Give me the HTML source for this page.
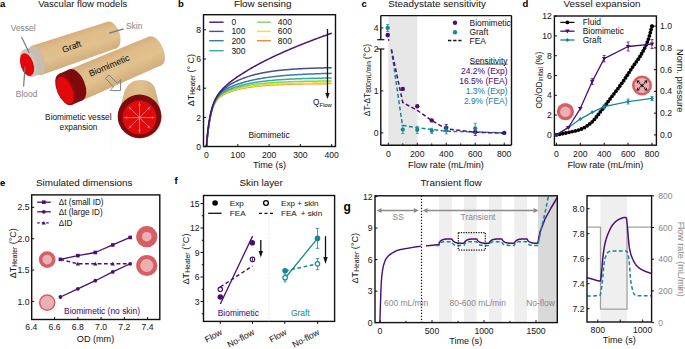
<!DOCTYPE html>
<html><head><meta charset="utf-8"><style>
html,body{margin:0;padding:0;background:#fff;width:685px;height:349px;overflow:hidden}
svg{display:block}
text{font-family:"Liberation Sans", sans-serif}
</style></head><body>
<svg width="685" height="349" viewBox="0 0 685 349">
<text x="0.00" y="7.20" font-size="9.5" text-anchor="start" fill="#000" font-weight="bold"  stroke="#000" stroke-width="0.05">a</text>
<text x="38.20" y="7.30" font-size="9.5" text-anchor="start" fill="#1a1a1a" font-weight="normal"  stroke="#1a1a1a" stroke-width="0.05">Vascular flow models</text>
<defs>
<linearGradient id="tan" x1="0" y1="0" x2="0" y2="1">
<stop offset="0" stop-color="#d4ae7c"/>
<stop offset="0.25" stop-color="#dfbd8a"/>
<stop offset="0.6" stop-color="#e1c18f"/>
<stop offset="1" stop-color="#d2ac7c"/>
</linearGradient>
<linearGradient id="tan2" x1="0" y1="0" x2="1" y2="0">
<stop offset="0" stop-color="#d5b07e"/>
<stop offset="0.5" stop-color="#e0c08e"/>
<stop offset="1" stop-color="#d2ac7c"/>
</linearGradient>
</defs>
<g transform="translate(36.8 60.4) rotate(-18.663)">
<path d="M0,-15.4 L79.37,-13.9 L79.37,13.9 L0,15.4 Z" fill="url(#tan)"/>
<ellipse cx="79.37" cy="0" rx="7.8" ry="13.9" fill="url(#tan)"/>
<ellipse cx="0" cy="0" rx="7.5" ry="15.4" fill="#d6b687"/>
<rect x="-9" y="-14.2" width="9" height="28.4" fill="#c9bdb2"/>
<ellipse cx="0" cy="0" rx="7" ry="14.2" fill="#c9bdb2"/>
<ellipse cx="-9" cy="0" rx="7.6" ry="14.2" fill="#cfc4ba"/>
<ellipse cx="-10.6" cy="0.9" rx="6.4" ry="11.7" fill="#e2080a"/>
</g>
<text x="71.60" y="49.75" font-size="8.8" text-anchor="middle" fill="#111" font-weight="normal" transform="rotate(-21 71.60 46.60)"  stroke="#111" stroke-width="0.05">Graft</text>
<g transform="translate(75.6 85.0) rotate(-23.190)">
<path d="M0,-16.8 L86.60,-15.6 L86.60,15.6 L0,16.8 Z" fill="url(#tan)"/>
<ellipse cx="86.60" cy="0" rx="8.3" ry="15.6" fill="url(#tan)"/>
<rect x="-11" y="-16.8" width="11" height="33.6" fill="#7e0a0e"/>
<ellipse cx="0" cy="0" rx="9.2" ry="16.8" fill="#7e0a0e"/>
<ellipse cx="-11" cy="0" rx="8.6" ry="16.8" fill="#8e0b10"/>
<ellipse cx="-11.8" cy="0.7" rx="7.3" ry="14.50" fill="#e2090b"/>
</g>
<text x="109.00" y="68.65" font-size="8.8" text-anchor="middle" fill="#111" font-weight="normal" transform="rotate(-23 109.00 65.50)"  stroke="#111" stroke-width="0.05">Biomimetic</text>
<path d="M124,93 Q128,80 141,80 Q154,80 156,92 L161.8,116 A21.6,21.6 0 0 1 118,117 Z" fill="url(#tan2)"/>
<circle cx="139.50" cy="116.40" r="21.8" fill="#7e0a0e" stroke="none" stroke-width="0"/>
<circle cx="139.50" cy="117.60" r="17.0" fill="#e2090b" stroke="none" stroke-width="0"/>
<line x1="139.50" y1="117.60" x2="154.70" y2="117.60" stroke="#ff6a6a" stroke-width="1.0" />
<path d="M154.70,117.60 L151.70,118.90 L151.70,116.30 Z" fill="#ff6a6a"/>
<line x1="139.50" y1="117.60" x2="150.25" y2="128.35" stroke="#ff6a6a" stroke-width="1.0" />
<path d="M150.25,128.35 L147.21,127.15 L149.05,125.31 Z" fill="#ff6a6a"/>
<line x1="139.50" y1="117.60" x2="139.50" y2="132.80" stroke="#ff6a6a" stroke-width="1.0" />
<path d="M139.50,132.80 L138.20,129.80 L140.80,129.80 Z" fill="#ff6a6a"/>
<line x1="139.50" y1="117.60" x2="128.75" y2="128.35" stroke="#ff6a6a" stroke-width="1.0" />
<path d="M128.75,128.35 L129.95,125.31 L131.79,127.15 Z" fill="#ff6a6a"/>
<line x1="139.50" y1="117.60" x2="124.30" y2="117.60" stroke="#ff6a6a" stroke-width="1.0" />
<path d="M124.30,117.60 L127.30,116.30 L127.30,118.90 Z" fill="#ff6a6a"/>
<line x1="139.50" y1="117.60" x2="128.75" y2="106.85" stroke="#ff6a6a" stroke-width="1.0" />
<path d="M128.75,106.85 L131.79,108.05 L129.95,109.89 Z" fill="#ff6a6a"/>
<line x1="139.50" y1="117.60" x2="139.50" y2="102.40" stroke="#ff6a6a" stroke-width="1.0" />
<path d="M139.50,102.40 L140.80,105.40 L138.20,105.40 Z" fill="#ff6a6a"/>
<line x1="139.50" y1="117.60" x2="150.25" y2="106.85" stroke="#ff6a6a" stroke-width="1.0" />
<path d="M150.25,106.85 L149.05,109.89 L147.21,108.05 Z" fill="#ff6a6a"/>
<path d="M105.6,78.2 L109,75.0 L117.2,83.2 L120.6,79.8 L120.6,90.6 L109.8,90.6 L113.4,87.0 Z" fill="none" stroke="#7d7d7d" stroke-width="1"/>
<line x1="110.70" y1="88.00" x2="110.70" y2="151.00" stroke="#f0f0f0" stroke-width="0.6" />
<text x="78.30" y="120.17" font-size="8.3" text-anchor="middle" fill="#222" font-weight="normal"  stroke="#222" stroke-width="0.05">Biomimetic vessel</text>
<text x="78.50" y="129.57" font-size="8.3" text-anchor="middle" fill="#222" font-weight="normal"  stroke="#222" stroke-width="0.05">expansion</text>
<text x="23.20" y="31.03" font-size="8.45" text-anchor="middle" fill="#8a8a8a" font-weight="normal"  stroke="#8a8a8a" stroke-width="0.05">Vessel</text>
<text x="26.60" y="96.83" font-size="8.45" text-anchor="middle" fill="#8a8a8a" font-weight="normal"  stroke="#8a8a8a" stroke-width="0.05">Blood</text>
<text x="134.20" y="29.03" font-size="8.45" text-anchor="middle" fill="#8a8a8a" font-weight="normal"  stroke="#8a8a8a" stroke-width="0.05">Skin</text>
<line x1="21.50" y1="37.00" x2="29.30" y2="52.90" stroke="#777" stroke-width="1.2" />
<line x1="25.00" y1="66.50" x2="23.60" y2="86.50" stroke="#777" stroke-width="1.2" />
<line x1="109.20" y1="33.20" x2="123.70" y2="28.90" stroke="#777" stroke-width="1.2" />
<text x="178.00" y="7.20" font-size="9.5" text-anchor="start" fill="#000" font-weight="bold"  stroke="#000" stroke-width="0.05">b</text>
<text x="262.70" y="7.44" font-size="9.9" text-anchor="middle" fill="#1a1a1a" font-weight="normal"  stroke="#1a1a1a" stroke-width="0.05">Flow sensing</text>
<path d="M206.50,146.60 L206.66,144.75 L206.82,142.97 L206.98,141.26 L207.14,139.62 L207.30,138.04 L207.46,136.52 L207.62,135.05 L207.78,133.64 L207.94,132.29 L208.11,130.98 L208.27,129.73 L208.43,128.52 L208.59,127.36 L208.75,126.23 L208.91,125.16 L209.07,124.12 L209.23,123.12 L209.39,122.15 L209.55,121.22 L209.71,120.33 L209.87,119.46 L210.03,118.63 L210.19,117.83 L210.35,117.06 L210.51,116.31 L210.67,115.59 L210.83,114.90 L210.99,114.23 L211.15,113.58 L211.32,112.96 L211.48,112.36 L211.64,111.77 L211.80,111.21 L211.96,110.67 L212.12,110.15 L212.28,109.64 L212.44,109.15 L212.60,108.68 L212.76,108.22 L212.92,107.79 L213.71,105.79 L214.51,104.09 L215.31,102.62 L216.11,101.36 L216.90,100.26 L217.70,99.29 L218.50,98.43 L219.29,97.67 L220.09,96.99 L220.89,96.37 L221.69,95.81 L222.48,95.29 L223.28,94.81 L224.08,94.37 L224.87,93.96 L225.67,93.57 L226.47,93.21 L227.27,92.86 L228.06,92.53 L228.86,92.22 L229.66,91.93 L230.46,91.64 L231.25,91.37 L232.05,91.11 L232.85,90.86 L233.64,90.62 L234.44,90.38 L235.24,90.16 L236.04,89.94 L236.83,89.73 L237.63,89.53 L238.43,89.34 L239.22,89.15 L240.02,88.97 L240.82,88.79 L241.62,88.62 L242.41,88.46 L243.21,88.30 L244.01,88.15 L244.80,88.00 L245.60,87.85 L246.40,87.71 L247.20,87.58 L247.99,87.45 L248.79,87.32 L249.59,87.20 L250.39,87.08 L251.18,86.96 L251.98,86.85 L252.78,86.74 L253.57,86.64 L254.37,86.54 L255.17,86.44 L255.97,86.35 L256.76,86.26 L257.56,86.17 L258.36,86.08 L259.15,86.00 L259.95,85.92 L260.75,85.84 L261.55,85.76 L262.34,85.69 L263.14,85.62 L263.94,85.55 L264.73,85.48 L265.53,85.42 L266.33,85.36 L267.13,85.30 L267.92,85.24 L268.72,85.18 L269.52,85.13 L270.32,85.07 L271.11,85.02 L271.91,84.97 L272.71,84.93 L273.50,84.88 L274.30,84.83 L275.10,84.79 L275.90,84.75 L276.69,84.71 L277.49,84.67 L278.29,84.63 L279.08,84.59 L279.88,84.55 L280.68,84.52 L281.48,84.49 L282.27,84.45 L283.07,84.42 L283.87,84.39 L284.66,84.36 L285.46,84.33 L286.26,84.30 L287.06,84.28 L287.85,84.25 L288.65,84.23 L289.45,84.20 L290.25,84.18 L291.04,84.16 L291.84,84.13 L292.64,84.11 L293.43,84.09 L294.23,84.07 L295.03,84.05 L295.83,84.03 L296.62,84.01 L297.42,84.00 L298.22,83.98 L299.01,83.96 L299.81,83.95 L300.61,83.93 L301.41,83.92 L302.20,83.90 L303.00,83.89 L303.80,83.87 L304.60,83.86 L305.39,83.85 L306.19,83.83 L306.99,83.82 L307.78,83.81 L308.58,83.80 L309.38,83.79 L310.18,83.78 L310.97,83.77 L311.77,83.76 L312.57,83.75 L313.36,83.74 L314.16,83.73 L314.96,83.72 L315.76,83.71 L316.55,83.70 L317.35,83.70 L318.15,83.69 L318.94,83.68 L319.74,83.67 L320.54,83.67 L321.34,83.66 L322.13,83.65 L322.93,83.65 L323.73,83.64 L324.53,83.64 L325.32,83.63 L326.12,83.62 L326.92,83.62 L327.71,83.61 L328.51,83.61 L329.31,83.60 L330.11,83.60 L330.90,83.59 L331.70,83.59" fill="none" stroke="#f7892a" stroke-width="1.5" stroke-linejoin="round" />
<path d="M206.50,146.60 L206.66,144.76 L206.82,142.99 L206.98,141.29 L207.14,139.65 L207.30,138.07 L207.46,136.55 L207.62,135.09 L207.78,133.68 L207.94,132.32 L208.11,131.01 L208.27,129.75 L208.43,128.54 L208.59,127.37 L208.75,126.24 L208.91,125.15 L209.07,124.11 L209.23,123.10 L209.39,122.12 L209.55,121.18 L209.71,120.28 L209.87,119.40 L210.03,118.56 L210.19,117.75 L210.35,116.96 L210.51,116.21 L210.67,115.48 L210.83,114.77 L210.99,114.09 L211.15,113.43 L211.32,112.79 L211.48,112.18 L211.64,111.59 L211.80,111.01 L211.96,110.46 L212.12,109.92 L212.28,109.41 L212.44,108.91 L212.60,108.42 L212.76,107.95 L212.92,107.51 L213.71,105.46 L214.51,103.71 L215.31,102.20 L216.11,100.90 L216.90,99.77 L217.70,98.77 L218.50,97.89 L219.29,97.11 L220.09,96.41 L220.89,95.78 L221.69,95.21 L222.48,94.68 L223.28,94.20 L224.08,93.75 L224.87,93.34 L225.67,92.95 L226.47,92.58 L227.27,92.24 L228.06,91.91 L228.86,91.60 L229.66,91.30 L230.46,91.02 L231.25,90.75 L232.05,90.49 L232.85,90.24 L233.64,90.00 L234.44,89.77 L235.24,89.55 L236.04,89.33 L236.83,89.13 L237.63,88.93 L238.43,88.74 L239.22,88.55 L240.02,88.37 L240.82,88.19 L241.62,88.03 L242.41,87.86 L243.21,87.70 L244.01,87.55 L244.80,87.40 L245.60,87.26 L246.40,87.12 L247.20,86.99 L247.99,86.86 L248.79,86.73 L249.59,86.61 L250.39,86.49 L251.18,86.38 L251.98,86.26 L252.78,86.16 L253.57,86.05 L254.37,85.95 L255.17,85.85 L255.97,85.76 L256.76,85.67 L257.56,85.58 L258.36,85.49 L259.15,85.41 L259.95,85.33 L260.75,85.25 L261.55,85.17 L262.34,85.10 L263.14,85.03 L263.94,84.96 L264.73,84.89 L265.53,84.83 L266.33,84.77 L267.13,84.70 L267.92,84.65 L268.72,84.59 L269.52,84.53 L270.32,84.48 L271.11,84.43 L271.91,84.38 L272.71,84.33 L273.50,84.28 L274.30,84.23 L275.10,84.19 L275.90,84.15 L276.69,84.11 L277.49,84.07 L278.29,84.03 L279.08,83.99 L279.88,83.95 L280.68,83.92 L281.48,83.88 L282.27,83.85 L283.07,83.82 L283.87,83.78 L284.66,83.75 L285.46,83.72 L286.26,83.70 L287.06,83.67 L287.85,83.64 L288.65,83.62 L289.45,83.59 L290.25,83.57 L291.04,83.54 L291.84,83.52 L292.64,83.50 L293.43,83.48 L294.23,83.46 L295.03,83.44 L295.83,83.42 L296.62,83.40 L297.42,83.38 L298.22,83.36 L299.01,83.34 L299.81,83.33 L300.61,83.31 L301.41,83.29 L302.20,83.28 L303.00,83.26 L303.80,83.25 L304.60,83.24 L305.39,83.22 L306.19,83.21 L306.99,83.20 L307.78,83.19 L308.58,83.17 L309.38,83.16 L310.18,83.15 L310.97,83.14 L311.77,83.13 L312.57,83.12 L313.36,83.11 L314.16,83.10 L314.96,83.09 L315.76,83.08 L316.55,83.07 L317.35,83.07 L318.15,83.06 L318.94,83.05 L319.74,83.04 L320.54,83.04 L321.34,83.03 L322.13,83.02 L322.93,83.01 L323.73,83.01 L324.53,83.00 L325.32,83.00 L326.12,82.99 L326.92,82.98 L327.71,82.98 L328.51,82.97 L329.31,82.97 L330.11,82.96 L330.90,82.96 L331.70,82.95" fill="none" stroke="#f5df1e" stroke-width="1.5" stroke-linejoin="round" />
<path d="M206.50,146.60 L206.66,144.76 L206.82,142.98 L206.98,141.27 L207.14,139.62 L207.30,138.03 L207.46,136.50 L207.62,135.03 L207.78,133.61 L207.94,132.24 L208.11,130.92 L208.27,129.65 L208.43,128.42 L208.59,127.24 L208.75,126.10 L208.91,125.00 L209.07,123.94 L209.23,122.92 L209.39,121.94 L209.55,120.99 L209.71,120.07 L209.87,119.18 L210.03,118.33 L210.19,117.50 L210.35,116.71 L210.51,115.94 L210.67,115.20 L210.83,114.48 L210.99,113.79 L211.15,113.12 L211.32,112.47 L211.48,111.85 L211.64,111.24 L211.80,110.66 L211.96,110.10 L212.12,109.55 L212.28,109.02 L212.44,108.51 L212.60,108.02 L212.76,107.54 L212.92,107.09 L213.71,104.99 L214.51,103.20 L215.31,101.65 L216.11,100.31 L216.90,99.14 L217.70,98.12 L218.50,97.21 L219.29,96.40 L220.09,95.67 L220.89,95.02 L221.69,94.42 L222.48,93.87 L223.28,93.37 L224.08,92.90 L224.87,92.47 L225.67,92.06 L226.47,91.67 L227.27,91.31 L228.06,90.97 L228.86,90.64 L229.66,90.33 L230.46,90.03 L231.25,89.74 L232.05,89.46 L232.85,89.20 L233.64,88.94 L234.44,88.70 L235.24,88.46 L236.04,88.23 L236.83,88.01 L237.63,87.79 L238.43,87.59 L239.22,87.38 L240.02,87.19 L240.82,87.00 L241.62,86.82 L242.41,86.64 L243.21,86.47 L244.01,86.30 L244.80,86.14 L245.60,85.98 L246.40,85.83 L247.20,85.68 L247.99,85.54 L248.79,85.40 L249.59,85.26 L250.39,85.13 L251.18,85.00 L251.98,84.88 L252.78,84.76 L253.57,84.64 L254.37,84.53 L255.17,84.42 L255.97,84.31 L256.76,84.21 L257.56,84.11 L258.36,84.01 L259.15,83.92 L259.95,83.82 L260.75,83.74 L261.55,83.65 L262.34,83.56 L263.14,83.48 L263.94,83.40 L264.73,83.33 L265.53,83.25 L266.33,83.18 L267.13,83.11 L267.92,83.04 L268.72,82.97 L269.52,82.91 L270.32,82.85 L271.11,82.79 L271.91,82.73 L272.71,82.67 L273.50,82.62 L274.30,82.56 L275.10,82.51 L275.90,82.46 L276.69,82.41 L277.49,82.36 L278.29,82.31 L279.08,82.27 L279.88,82.23 L280.68,82.18 L281.48,82.14 L282.27,82.10 L283.07,82.06 L283.87,82.03 L284.66,81.99 L285.46,81.95 L286.26,81.92 L287.06,81.88 L287.85,81.85 L288.65,81.82 L289.45,81.79 L290.25,81.76 L291.04,81.73 L291.84,81.70 L292.64,81.68 L293.43,81.65 L294.23,81.62 L295.03,81.60 L295.83,81.57 L296.62,81.55 L297.42,81.53 L298.22,81.51 L299.01,81.48 L299.81,81.46 L300.61,81.44 L301.41,81.42 L302.20,81.40 L303.00,81.39 L303.80,81.37 L304.60,81.35 L305.39,81.33 L306.19,81.32 L306.99,81.30 L307.78,81.29 L308.58,81.27 L309.38,81.26 L310.18,81.24 L310.97,81.23 L311.77,81.21 L312.57,81.20 L313.36,81.19 L314.16,81.18 L314.96,81.17 L315.76,81.15 L316.55,81.14 L317.35,81.13 L318.15,81.12 L318.94,81.11 L319.74,81.10 L320.54,81.09 L321.34,81.08 L322.13,81.07 L322.93,81.06 L323.73,81.06 L324.53,81.05 L325.32,81.04 L326.12,81.03 L326.92,81.02 L327.71,81.02 L328.51,81.01 L329.31,81.00 L330.11,80.99 L330.90,80.99 L331.70,80.98" fill="none" stroke="#85d35d" stroke-width="1.5" stroke-linejoin="round" />
<path d="M206.50,146.60 L206.66,144.75 L206.82,142.96 L206.98,141.24 L207.14,139.58 L207.30,137.98 L207.46,136.44 L207.62,134.96 L207.78,133.53 L207.94,132.15 L208.11,130.82 L208.27,129.53 L208.43,128.30 L208.59,127.10 L208.75,125.95 L208.91,124.84 L209.07,123.77 L209.23,122.74 L209.39,121.75 L209.55,120.78 L209.71,119.86 L209.87,118.96 L210.03,118.09 L210.19,117.26 L210.35,116.45 L210.51,115.67 L210.67,114.92 L210.83,114.19 L210.99,113.49 L211.15,112.81 L211.32,112.15 L211.48,111.52 L211.64,110.90 L211.80,110.31 L211.96,109.74 L212.12,109.18 L212.28,108.64 L212.44,108.12 L212.60,107.62 L212.76,107.13 L212.92,106.67 L213.71,104.53 L214.51,102.69 L215.31,101.10 L216.11,99.72 L216.90,98.52 L217.70,97.45 L218.50,96.51 L219.29,95.67 L220.09,94.91 L220.89,94.22 L221.69,93.59 L222.48,93.02 L223.28,92.48 L224.08,91.98 L224.87,91.52 L225.67,91.08 L226.47,90.67 L227.27,90.27 L228.06,89.90 L228.86,89.54 L229.66,89.20 L230.46,88.88 L231.25,88.56 L232.05,88.26 L232.85,87.96 L233.64,87.68 L234.44,87.41 L235.24,87.14 L236.04,86.89 L236.83,86.64 L237.63,86.40 L238.43,86.16 L239.22,85.93 L240.02,85.71 L240.82,85.50 L241.62,85.29 L242.41,85.08 L243.21,84.88 L244.01,84.69 L244.80,84.50 L245.60,84.32 L246.40,84.14 L247.20,83.97 L247.99,83.80 L248.79,83.64 L249.59,83.48 L250.39,83.33 L251.18,83.18 L251.98,83.03 L252.78,82.89 L253.57,82.75 L254.37,82.61 L255.17,82.48 L255.97,82.35 L256.76,82.23 L257.56,82.10 L258.36,81.99 L259.15,81.87 L259.95,81.76 L260.75,81.65 L261.55,81.54 L262.34,81.44 L263.14,81.34 L263.94,81.24 L264.73,81.14 L265.53,81.05 L266.33,80.96 L267.13,80.87 L267.92,80.79 L268.72,80.70 L269.52,80.62 L270.32,80.54 L271.11,80.46 L271.91,80.39 L272.71,80.32 L273.50,80.25 L274.30,80.18 L275.10,80.11 L275.90,80.04 L276.69,79.98 L277.49,79.92 L278.29,79.86 L279.08,79.80 L279.88,79.74 L280.68,79.68 L281.48,79.63 L282.27,79.58 L283.07,79.52 L283.87,79.47 L284.66,79.42 L285.46,79.38 L286.26,79.33 L287.06,79.29 L287.85,79.24 L288.65,79.20 L289.45,79.16 L290.25,79.12 L291.04,79.08 L291.84,79.04 L292.64,79.00 L293.43,78.96 L294.23,78.93 L295.03,78.89 L295.83,78.86 L296.62,78.83 L297.42,78.80 L298.22,78.76 L299.01,78.73 L299.81,78.71 L300.61,78.68 L301.41,78.65 L302.20,78.62 L303.00,78.59 L303.80,78.57 L304.60,78.54 L305.39,78.52 L306.19,78.50 L306.99,78.47 L307.78,78.45 L308.58,78.43 L309.38,78.41 L310.18,78.39 L310.97,78.37 L311.77,78.35 L312.57,78.33 L313.36,78.31 L314.16,78.29 L314.96,78.27 L315.76,78.26 L316.55,78.24 L317.35,78.22 L318.15,78.21 L318.94,78.19 L319.74,78.18 L320.54,78.16 L321.34,78.15 L322.13,78.13 L322.93,78.12 L323.73,78.11 L324.53,78.09 L325.32,78.08 L326.12,78.07 L326.92,78.06 L327.71,78.04 L328.51,78.03 L329.31,78.02 L330.11,78.01 L330.90,78.00 L331.70,77.99" fill="none" stroke="#36ae99" stroke-width="1.5" stroke-linejoin="round" />
<path d="M206.50,146.60 L206.66,144.77 L206.82,143.01 L206.98,141.31 L207.14,139.66 L207.30,138.08 L207.46,136.54 L207.62,135.07 L207.78,133.64 L207.94,132.26 L208.11,130.93 L208.27,129.65 L208.43,128.40 L208.59,127.21 L208.75,126.05 L208.91,124.93 L209.07,123.85 L209.23,122.80 L209.39,121.79 L209.55,120.82 L209.71,119.87 L209.87,118.96 L210.03,118.08 L210.19,117.22 L210.35,116.40 L210.51,115.60 L210.67,114.83 L210.83,114.08 L210.99,113.36 L211.15,112.66 L211.32,111.98 L211.48,111.32 L211.64,110.69 L211.80,110.07 L211.96,109.48 L212.12,108.90 L212.28,108.34 L212.44,107.79 L212.60,107.27 L212.76,106.76 L212.92,106.28 L213.71,104.03 L214.51,102.08 L215.31,100.40 L216.11,98.92 L216.90,97.62 L217.70,96.48 L218.50,95.46 L219.29,94.54 L220.09,93.71 L220.89,92.96 L221.69,92.27 L222.48,91.63 L223.28,91.04 L224.08,90.49 L224.87,89.98 L225.67,89.49 L226.47,89.03 L227.27,88.60 L228.06,88.18 L228.86,87.78 L229.66,87.40 L230.46,87.03 L231.25,86.68 L232.05,86.34 L232.85,86.01 L233.64,85.68 L234.44,85.37 L235.24,85.07 L236.04,84.78 L236.83,84.49 L237.63,84.21 L238.43,83.94 L239.22,83.68 L240.02,83.42 L240.82,83.17 L241.62,82.93 L242.41,82.69 L243.21,82.45 L244.01,82.23 L244.80,82.01 L245.60,81.79 L246.40,81.58 L247.20,81.37 L247.99,81.17 L248.79,80.97 L249.59,80.78 L250.39,80.59 L251.18,80.41 L251.98,80.23 L252.78,80.05 L253.57,79.88 L254.37,79.71 L255.17,79.55 L255.97,79.39 L256.76,79.24 L257.56,79.08 L258.36,78.93 L259.15,78.79 L259.95,78.65 L260.75,78.51 L261.55,78.37 L262.34,78.24 L263.14,78.11 L263.94,77.98 L264.73,77.86 L265.53,77.74 L266.33,77.62 L267.13,77.51 L267.92,77.39 L268.72,77.28 L269.52,77.18 L270.32,77.07 L271.11,76.97 L271.91,76.87 L272.71,76.77 L273.50,76.67 L274.30,76.58 L275.10,76.49 L275.90,76.40 L276.69,76.31 L277.49,76.23 L278.29,76.15 L279.08,76.06 L279.88,75.98 L280.68,75.91 L281.48,75.83 L282.27,75.76 L283.07,75.68 L283.87,75.61 L284.66,75.54 L285.46,75.48 L286.26,75.41 L287.06,75.35 L287.85,75.28 L288.65,75.22 L289.45,75.16 L290.25,75.10 L291.04,75.05 L291.84,74.99 L292.64,74.93 L293.43,74.88 L294.23,74.83 L295.03,74.78 L295.83,74.73 L296.62,74.68 L297.42,74.63 L298.22,74.58 L299.01,74.54 L299.81,74.49 L300.61,74.45 L301.41,74.41 L302.20,74.37 L303.00,74.33 L303.80,74.29 L304.60,74.25 L305.39,74.21 L306.19,74.17 L306.99,74.14 L307.78,74.10 L308.58,74.07 L309.38,74.03 L310.18,74.00 L310.97,73.97 L311.77,73.94 L312.57,73.91 L313.36,73.88 L314.16,73.85 L314.96,73.82 L315.76,73.79 L316.55,73.76 L317.35,73.74 L318.15,73.71 L318.94,73.69 L319.74,73.66 L320.54,73.64 L321.34,73.61 L322.13,73.59 L322.93,73.57 L323.73,73.55 L324.53,73.52 L325.32,73.50 L326.12,73.48 L326.92,73.46 L327.71,73.44 L328.51,73.42 L329.31,73.40 L330.11,73.39 L330.90,73.37 L331.70,73.35" fill="none" stroke="#3a7d9e" stroke-width="1.5" stroke-linejoin="round" />
<path d="M206.50,146.60 L206.66,144.68 L206.82,142.84 L206.98,141.07 L207.14,139.36 L207.30,137.72 L207.46,136.14 L207.62,134.62 L207.78,133.16 L207.94,131.75 L208.11,130.39 L208.27,129.08 L208.43,127.82 L208.59,126.61 L208.75,125.44 L208.91,124.31 L209.07,123.22 L209.23,122.17 L209.39,121.16 L209.55,120.18 L209.71,119.24 L209.87,118.33 L210.03,117.45 L210.19,116.60 L210.35,115.78 L210.51,114.99 L210.67,114.22 L210.83,113.48 L210.99,112.76 L211.15,112.07 L211.32,111.40 L211.48,110.75 L211.64,110.12 L211.80,109.52 L211.96,108.93 L212.12,108.36 L212.28,107.80 L212.44,107.27 L212.60,106.75 L212.76,106.24 L212.92,105.76 L213.71,103.53 L214.51,101.59 L215.31,99.88 L216.11,98.37 L216.90,97.03 L217.70,95.81 L218.50,94.71 L219.29,93.70 L220.09,92.77 L220.89,91.91 L221.69,91.10 L222.48,90.34 L223.28,89.62 L224.08,88.95 L224.87,88.30 L225.67,87.68 L226.47,87.09 L227.27,86.52 L228.06,85.97 L228.86,85.45 L229.66,84.94 L230.46,84.45 L231.25,83.97 L232.05,83.51 L232.85,83.06 L233.64,82.63 L234.44,82.21 L235.24,81.80 L236.04,81.40 L236.83,81.01 L237.63,80.64 L238.43,80.27 L239.22,79.92 L240.02,79.57 L240.82,79.24 L241.62,78.91 L242.41,78.60 L243.21,78.29 L244.01,77.99 L244.80,77.70 L245.60,77.41 L246.40,77.14 L247.20,76.87 L247.99,76.61 L248.79,76.35 L249.59,76.11 L250.39,75.87 L251.18,75.63 L251.98,75.40 L252.78,75.18 L253.57,74.97 L254.37,74.76 L255.17,74.55 L255.97,74.35 L256.76,74.16 L257.56,73.97 L258.36,73.79 L259.15,73.61 L259.95,73.44 L260.75,73.27 L261.55,73.10 L262.34,72.95 L263.14,72.79 L263.94,72.64 L264.73,72.49 L265.53,72.35 L266.33,72.21 L267.13,72.07 L267.92,71.94 L268.72,71.81 L269.52,71.69 L270.32,71.57 L271.11,71.45 L271.91,71.33 L272.71,71.22 L273.50,71.11 L274.30,71.01 L275.10,70.91 L275.90,70.81 L276.69,70.71 L277.49,70.61 L278.29,70.52 L279.08,70.43 L279.88,70.34 L280.68,70.26 L281.48,70.18 L282.27,70.09 L283.07,70.02 L283.87,69.94 L284.66,69.87 L285.46,69.79 L286.26,69.72 L287.06,69.66 L287.85,69.59 L288.65,69.52 L289.45,69.46 L290.25,69.40 L291.04,69.34 L291.84,69.28 L292.64,69.23 L293.43,69.17 L294.23,69.12 L295.03,69.07 L295.83,69.02 L296.62,68.97 L297.42,68.92 L298.22,68.87 L299.01,68.83 L299.81,68.78 L300.61,68.74 L301.41,68.70 L302.20,68.66 L303.00,68.62 L303.80,68.58 L304.60,68.54 L305.39,68.50 L306.19,68.47 L306.99,68.43 L307.78,68.40 L308.58,68.37 L309.38,68.34 L310.18,68.31 L310.97,68.28 L311.77,68.25 L312.57,68.22 L313.36,68.19 L314.16,68.16 L314.96,68.14 L315.76,68.11 L316.55,68.09 L317.35,68.06 L318.15,68.04 L318.94,68.02 L319.74,67.99 L320.54,67.97 L321.34,67.95 L322.13,67.93 L322.93,67.91 L323.73,67.89 L324.53,67.87 L325.32,67.85 L326.12,67.84 L326.92,67.82 L327.71,67.80 L328.51,67.79 L329.31,67.77 L330.11,67.75 L330.90,67.74 L331.70,67.72" fill="none" stroke="#46508c" stroke-width="1.5" stroke-linejoin="round" />
<path d="M206.50,146.60 L206.66,142.86 L206.82,140.59 L206.98,138.62 L207.14,136.83 L207.30,135.16 L207.46,133.59 L207.62,132.11 L207.78,130.70 L207.94,129.35 L208.11,128.07 L208.27,126.84 L208.43,125.66 L208.59,124.53 L208.75,123.45 L208.91,122.40 L209.07,121.39 L209.23,120.42 L209.39,119.49 L209.55,118.58 L209.71,117.71 L209.87,116.87 L210.03,116.06 L210.19,115.27 L210.35,114.51 L210.51,113.78 L210.67,113.07 L210.83,112.38 L210.99,111.71 L211.15,111.06 L211.32,110.43 L211.48,109.82 L211.64,109.23 L211.80,108.66 L211.96,108.10 L212.12,107.56 L212.28,107.03 L212.44,106.52 L212.60,106.02 L212.76,105.54 L212.92,105.08 L213.71,102.91 L214.51,101.00 L215.31,99.29 L216.11,97.75 L216.90,96.36 L217.70,95.09 L218.50,93.91 L219.29,92.82 L220.09,91.81 L220.89,90.85 L221.69,89.94 L222.48,89.07 L223.28,88.25 L224.08,87.46 L224.87,86.69 L225.67,85.95 L226.47,85.24 L227.27,84.54 L228.06,83.86 L228.86,83.20 L229.66,82.55 L230.46,81.92 L231.25,81.30 L232.05,80.69 L232.85,80.09 L233.64,79.50 L234.44,78.92 L235.24,78.34 L236.04,77.78 L236.83,77.22 L237.63,76.67 L238.43,76.13 L239.22,75.60 L240.02,75.07 L240.82,74.55 L241.62,74.03 L242.41,73.52 L243.21,73.01 L244.01,72.51 L244.80,72.02 L245.60,71.53 L246.40,71.04 L247.20,70.56 L247.99,70.09 L248.79,69.62 L249.59,69.15 L250.39,68.68 L251.18,68.23 L251.98,67.77 L252.78,67.32 L253.57,66.87 L254.37,66.43 L255.17,65.98 L255.97,65.55 L256.76,65.11 L257.56,64.68 L258.36,64.25 L259.15,63.83 L259.95,63.41 L260.75,62.99 L261.55,62.57 L262.34,62.16 L263.14,61.75 L263.94,61.34 L264.73,60.94 L265.53,60.54 L266.33,60.14 L267.13,59.74 L267.92,59.35 L268.72,58.95 L269.52,58.56 L270.32,58.18 L271.11,57.79 L271.91,57.41 L272.71,57.03 L273.50,56.65 L274.30,56.27 L275.10,55.90 L275.90,55.53 L276.69,55.16 L277.49,54.79 L278.29,54.42 L279.08,54.06 L279.88,53.70 L280.68,53.34 L281.48,52.98 L282.27,52.62 L283.07,52.27 L283.87,51.91 L284.66,51.56 L285.46,51.21 L286.26,50.86 L287.06,50.52 L287.85,50.17 L288.65,49.83 L289.45,49.49 L290.25,49.15 L291.04,48.81 L291.84,48.47 L292.64,48.13 L293.43,47.80 L294.23,47.47 L295.03,47.14 L295.83,46.81 L296.62,46.48 L297.42,46.15 L298.22,45.83 L299.01,45.50 L299.81,45.18 L300.61,44.86 L301.41,44.54 L302.20,44.22 L303.00,43.90 L303.80,43.58 L304.60,43.27 L305.39,42.95 L306.19,42.64 L306.99,42.33 L307.78,42.02 L308.58,41.71 L309.38,41.40 L310.18,41.09 L310.97,40.79 L311.77,40.48 L312.57,40.18 L313.36,39.87 L314.16,39.57 L314.96,39.27 L315.76,38.97 L316.55,38.67 L317.35,38.38 L318.15,38.08 L318.94,37.78 L319.74,37.49 L320.54,37.20 L321.34,36.90 L322.13,36.61 L322.93,36.32 L323.73,36.03 L324.53,35.74 L325.32,35.45 L326.12,35.17 L326.92,34.88 L327.71,34.60 L328.51,34.31 L329.31,34.03 L330.11,33.75 L330.90,33.46 L331.70,33.18" fill="none" stroke="#4a1770" stroke-width="1.5" stroke-linejoin="round" />
<rect x="203.5" y="14.7" width="132.0" height="131.8" fill="none" stroke="#111" stroke-width="1.4"/>
<line x1="203.50" y1="146.60" x2="206.00" y2="146.60" stroke="#111" stroke-width="1" />
<text x="201.00" y="149.70" font-size="8.65" text-anchor="end" fill="#1a1a1a" font-weight="normal"  stroke="#1a1a1a" stroke-width="0.05">0</text>
<line x1="203.50" y1="117.40" x2="206.00" y2="117.40" stroke="#111" stroke-width="1" />
<text x="201.00" y="120.50" font-size="8.65" text-anchor="end" fill="#1a1a1a" font-weight="normal"  stroke="#1a1a1a" stroke-width="0.05">2</text>
<line x1="203.50" y1="88.20" x2="206.00" y2="88.20" stroke="#111" stroke-width="1" />
<text x="201.00" y="91.30" font-size="8.65" text-anchor="end" fill="#1a1a1a" font-weight="normal"  stroke="#1a1a1a" stroke-width="0.05">4</text>
<line x1="203.50" y1="59.00" x2="206.00" y2="59.00" stroke="#111" stroke-width="1" />
<text x="201.00" y="62.10" font-size="8.65" text-anchor="end" fill="#1a1a1a" font-weight="normal"  stroke="#1a1a1a" stroke-width="0.05">6</text>
<line x1="203.50" y1="29.80" x2="206.00" y2="29.80" stroke="#111" stroke-width="1" />
<text x="201.00" y="32.90" font-size="8.65" text-anchor="end" fill="#1a1a1a" font-weight="normal"  stroke="#1a1a1a" stroke-width="0.05">8</text>
<line x1="206.50" y1="146.50" x2="206.50" y2="144.00" stroke="#111" stroke-width="1" />
<text x="206.50" y="157.90" font-size="8.65" text-anchor="middle" fill="#1a1a1a" font-weight="normal"  stroke="#1a1a1a" stroke-width="0.05">0</text>
<line x1="237.80" y1="146.50" x2="237.80" y2="144.00" stroke="#111" stroke-width="1" />
<text x="237.80" y="157.90" font-size="8.65" text-anchor="middle" fill="#1a1a1a" font-weight="normal"  stroke="#1a1a1a" stroke-width="0.05">100</text>
<line x1="269.10" y1="146.50" x2="269.10" y2="144.00" stroke="#111" stroke-width="1" />
<text x="269.10" y="157.90" font-size="8.65" text-anchor="middle" fill="#1a1a1a" font-weight="normal"  stroke="#1a1a1a" stroke-width="0.05">200</text>
<line x1="300.40" y1="146.50" x2="300.40" y2="144.00" stroke="#111" stroke-width="1" />
<text x="300.40" y="157.90" font-size="8.65" text-anchor="middle" fill="#1a1a1a" font-weight="normal"  stroke="#1a1a1a" stroke-width="0.05">300</text>
<line x1="331.70" y1="146.50" x2="331.70" y2="144.00" stroke="#111" stroke-width="1" />
<text x="331.70" y="157.90" font-size="8.65" text-anchor="middle" fill="#1a1a1a" font-weight="normal"  stroke="#1a1a1a" stroke-width="0.05">400</text>
<text x="269.50" y="167.86" font-size="9.1" text-anchor="middle" fill="#1a1a1a" font-weight="normal"  stroke="#1a1a1a" stroke-width="0.05">Time (s)</text>
<text transform="translate(193.8 80.1) rotate(-90)" font-size="9.0" text-anchor="middle" fill="#1a1a1a" stroke="#1a1a1a" stroke-width="0.05">ΔT<tspan font-size="6.6" dy="1.32">Heater</tspan><tspan dy="-1.32"> (° C)</tspan></text>
<line x1="209.20" y1="22.20" x2="223.60" y2="22.20" stroke="#4a1770" stroke-width="1.4" />
<text x="231.40" y="25.23" font-size="8.45" text-anchor="start" fill="#1a1a1a" font-weight="normal"  stroke="#1a1a1a" stroke-width="0.05">0</text>
<line x1="209.20" y1="31.40" x2="223.60" y2="31.40" stroke="#46508c" stroke-width="1.4" />
<text x="231.40" y="34.43" font-size="8.45" text-anchor="start" fill="#1a1a1a" font-weight="normal"  stroke="#1a1a1a" stroke-width="0.05">100</text>
<line x1="209.20" y1="40.70" x2="223.60" y2="40.70" stroke="#3a7d9e" stroke-width="1.4" />
<text x="231.40" y="43.73" font-size="8.45" text-anchor="start" fill="#1a1a1a" font-weight="normal"  stroke="#1a1a1a" stroke-width="0.05">200</text>
<line x1="209.20" y1="50.70" x2="223.60" y2="50.70" stroke="#36ae99" stroke-width="1.4" />
<text x="231.40" y="53.73" font-size="8.45" text-anchor="start" fill="#1a1a1a" font-weight="normal"  stroke="#1a1a1a" stroke-width="0.05">300</text>
<line x1="257.00" y1="22.20" x2="270.90" y2="22.20" stroke="#85d35d" stroke-width="1.4" />
<text x="277.80" y="25.23" font-size="8.45" text-anchor="start" fill="#1a1a1a" font-weight="normal"  stroke="#1a1a1a" stroke-width="0.05">400</text>
<line x1="257.00" y1="31.40" x2="270.90" y2="31.40" stroke="#f5df1e" stroke-width="1.4" />
<text x="277.80" y="34.43" font-size="8.45" text-anchor="start" fill="#1a1a1a" font-weight="normal"  stroke="#1a1a1a" stroke-width="0.05">600</text>
<line x1="257.00" y1="40.70" x2="270.90" y2="40.70" stroke="#f7892a" stroke-width="1.4" />
<text x="277.80" y="43.73" font-size="8.45" text-anchor="start" fill="#1a1a1a" font-weight="normal"  stroke="#1a1a1a" stroke-width="0.05">800</text>
<line x1="327.50" y1="29.00" x2="327.50" y2="94.00" stroke="#111" stroke-width="1.3" />
<path d="M325.3,93 L329.7,93 L327.5,99 Z" fill="#111"/>
<text x="313" y="105" font-size="8.2" fill="#1a1a1a" stroke="#1a1a1a" stroke-width="0.05">Q<tspan font-size="5.8" dy="1.8">Flow</tspan></text>
<text x="289.70" y="138.43" font-size="8.45" text-anchor="end" fill="#1a1a1a" font-weight="normal"  stroke="#1a1a1a" stroke-width="0.05">Biomimetic</text>
<text x="361.40" y="7.20" font-size="9.5" text-anchor="start" fill="#000" font-weight="bold"  stroke="#000" stroke-width="0.05">c</text>
<text x="437.10" y="7.44" font-size="9.9" text-anchor="middle" fill="#1a1a1a" font-weight="normal"  stroke="#1a1a1a" stroke-width="0.05">Steadystate sensitivity</text>
<rect x="388.3" y="15.6" width="28.98" height="129.6" fill="#e6e6e6"/>
<line x1="380.80" y1="15.60" x2="511.50" y2="15.60" stroke="#111" stroke-width="1.4" />
<line x1="511.50" y1="15.60" x2="511.50" y2="145.20" stroke="#111" stroke-width="1.4" />
<line x1="380.80" y1="145.20" x2="511.50" y2="145.20" stroke="#111" stroke-width="1.4" />
<line x1="380.80" y1="15.60" x2="380.80" y2="39.70" stroke="#111" stroke-width="1.4" />
<line x1="377.20" y1="39.70" x2="384.40" y2="39.70" stroke="#111" stroke-width="1.2" />
<line x1="380.80" y1="49.00" x2="380.80" y2="145.20" stroke="#111" stroke-width="1.4" />
<line x1="377.20" y1="49.00" x2="384.40" y2="49.00" stroke="#111" stroke-width="1.2" />
<line x1="380.80" y1="27.90" x2="383.30" y2="27.90" stroke="#111" stroke-width="1" />
<text x="378.60" y="31.00" font-size="8.65" text-anchor="end" fill="#1a1a1a" font-weight="normal"  stroke="#1a1a1a" stroke-width="0.05">4</text>
<line x1="380.80" y1="132.90" x2="383.30" y2="132.90" stroke="#111" stroke-width="1" />
<text x="378.60" y="136.00" font-size="8.65" text-anchor="end" fill="#1a1a1a" font-weight="normal"  stroke="#1a1a1a" stroke-width="0.05">0</text>
<line x1="380.80" y1="90.90" x2="383.30" y2="90.90" stroke="#111" stroke-width="1" />
<text x="378.60" y="94.00" font-size="8.65" text-anchor="end" fill="#1a1a1a" font-weight="normal"  stroke="#1a1a1a" stroke-width="0.05">1</text>
<text x="378.60" y="52.00" font-size="8.65" text-anchor="end" fill="#1a1a1a" font-weight="normal"  stroke="#1a1a1a" stroke-width="0.05">2</text>
<line x1="402.79" y1="145.20" x2="402.79" y2="143.40" stroke="#111" stroke-width="1" />
<line x1="431.77" y1="145.20" x2="431.77" y2="143.40" stroke="#111" stroke-width="1" />
<line x1="460.75" y1="145.20" x2="460.75" y2="143.40" stroke="#111" stroke-width="1" />
<line x1="489.73" y1="145.20" x2="489.73" y2="143.40" stroke="#111" stroke-width="1" />
<line x1="388.30" y1="145.20" x2="388.30" y2="142.70" stroke="#111" stroke-width="1" />
<text x="388.30" y="156.70" font-size="8.65" text-anchor="middle" fill="#1a1a1a" font-weight="normal"  stroke="#1a1a1a" stroke-width="0.05">0</text>
<line x1="417.28" y1="145.20" x2="417.28" y2="142.70" stroke="#111" stroke-width="1" />
<text x="417.28" y="156.70" font-size="8.65" text-anchor="middle" fill="#1a1a1a" font-weight="normal"  stroke="#1a1a1a" stroke-width="0.05">200</text>
<line x1="446.26" y1="145.20" x2="446.26" y2="142.70" stroke="#111" stroke-width="1" />
<text x="446.26" y="156.70" font-size="8.65" text-anchor="middle" fill="#1a1a1a" font-weight="normal"  stroke="#1a1a1a" stroke-width="0.05">400</text>
<line x1="475.24" y1="145.20" x2="475.24" y2="142.70" stroke="#111" stroke-width="1" />
<text x="475.24" y="156.70" font-size="8.65" text-anchor="middle" fill="#1a1a1a" font-weight="normal"  stroke="#1a1a1a" stroke-width="0.05">600</text>
<line x1="504.22" y1="145.20" x2="504.22" y2="142.70" stroke="#111" stroke-width="1" />
<text x="504.22" y="156.70" font-size="8.65" text-anchor="middle" fill="#1a1a1a" font-weight="normal"  stroke="#1a1a1a" stroke-width="0.05">800</text>
<text x="446.00" y="167.56" font-size="9.1" text-anchor="middle" fill="#1a1a1a" font-weight="normal"  stroke="#1a1a1a" stroke-width="0.05">Flow rate (mL/min)</text>
<text transform="translate(369.8 80.2) rotate(-90)" font-size="8.3" text-anchor="middle" fill="#1a1a1a" stroke="#1a1a1a" stroke-width="0.05">ΔT-ΔT<tspan font-size="6.4" dy="1.28">800mL/min</tspan><tspan dy="-1.28"> (°C)</tspan></text>
<path d="M391.40,49.50 L402.40,125.30 L417.00,127.80 L431.80,129.50 L446.00,131.20 L475.00,132.00 L504.00,132.80" fill="none" stroke="#18869a" stroke-width="1.5" stroke-linejoin="round" stroke-dasharray="4,2.4"/>
<path d="M391.40,49.50 L402.80,102.50 L417.00,110.20 L431.80,120.50 L446.00,128.80 L475.00,132.20 L504.00,133.20" fill="none" stroke="#4b0e74" stroke-width="1.5" stroke-linejoin="round" stroke-dasharray="4,2.4"/>
<path d="M387.70,35.10 L389.00,41.00" fill="none" stroke="#4b0e74" stroke-width="1.2" stroke-linejoin="round" stroke-dasharray="2,2"/>
<circle cx="402.79" cy="88.90" r="2.2" fill="#4b0e74" stroke="none" stroke-width="0"/>
<circle cx="417.28" cy="106.20" r="2.2" fill="#4b0e74" stroke="none" stroke-width="0"/>
<circle cx="431.77" cy="120.40" r="2.2" fill="#4b0e74" stroke="none" stroke-width="0"/>
<circle cx="446.26" cy="127.70" r="2.2" fill="#4b0e74" stroke="none" stroke-width="0"/>
<circle cx="475.24" cy="132.00" r="2.2" fill="#4b0e74" stroke="none" stroke-width="0"/>
<circle cx="504.22" cy="132.90" r="2.2" fill="#4b0e74" stroke="none" stroke-width="0"/>
<line x1="475.24" y1="128.50" x2="475.24" y2="135.50" stroke="#4b0e74" stroke-width="0.8" />
<line x1="473.74" y1="128.50" x2="476.74" y2="128.50" stroke="#4b0e74" stroke-width="0.8" />
<line x1="473.74" y1="135.50" x2="476.74" y2="135.50" stroke="#4b0e74" stroke-width="0.8" />
<line x1="446.26" y1="124.50" x2="446.26" y2="131.00" stroke="#4b0e74" stroke-width="0.8" />
<line x1="444.76" y1="124.50" x2="447.76" y2="124.50" stroke="#4b0e74" stroke-width="0.8" />
<line x1="444.76" y1="131.00" x2="447.76" y2="131.00" stroke="#4b0e74" stroke-width="0.8" />
<line x1="402.79" y1="125.60" x2="402.79" y2="133.60" stroke="#18869a" stroke-width="0.8" />
<line x1="401.29" y1="125.60" x2="404.29" y2="125.60" stroke="#18869a" stroke-width="0.8" />
<line x1="401.29" y1="133.60" x2="404.29" y2="133.60" stroke="#18869a" stroke-width="0.8" />
<circle cx="402.79" cy="129.60" r="2.1" fill="#18869a" stroke="none" stroke-width="0"/>
<line x1="417.28" y1="126.40" x2="417.28" y2="133.40" stroke="#18869a" stroke-width="0.8" />
<line x1="415.78" y1="126.40" x2="418.78" y2="126.40" stroke="#18869a" stroke-width="0.8" />
<line x1="415.78" y1="133.40" x2="418.78" y2="133.40" stroke="#18869a" stroke-width="0.8" />
<circle cx="417.28" cy="129.90" r="2.1" fill="#18869a" stroke="none" stroke-width="0"/>
<line x1="431.77" y1="128.30" x2="431.77" y2="133.30" stroke="#18869a" stroke-width="0.8" />
<line x1="430.27" y1="128.30" x2="433.27" y2="128.30" stroke="#18869a" stroke-width="0.8" />
<line x1="430.27" y1="133.30" x2="433.27" y2="133.30" stroke="#18869a" stroke-width="0.8" />
<circle cx="431.77" cy="130.80" r="2.1" fill="#18869a" stroke="none" stroke-width="0"/>
<line x1="446.26" y1="126.80" x2="446.26" y2="133.80" stroke="#18869a" stroke-width="0.8" />
<line x1="444.76" y1="126.80" x2="447.76" y2="126.80" stroke="#18869a" stroke-width="0.8" />
<line x1="444.76" y1="133.80" x2="447.76" y2="133.80" stroke="#18869a" stroke-width="0.8" />
<circle cx="446.26" cy="130.30" r="2.1" fill="#18869a" stroke="none" stroke-width="0"/>
<line x1="475.24" y1="123.30" x2="475.24" y2="133.30" stroke="#18869a" stroke-width="0.8" />
<line x1="473.74" y1="123.30" x2="476.74" y2="123.30" stroke="#18869a" stroke-width="0.8" />
<line x1="473.74" y1="133.30" x2="476.74" y2="133.30" stroke="#18869a" stroke-width="0.8" />
<circle cx="475.24" cy="128.30" r="2.1" fill="#18869a" stroke="none" stroke-width="0"/>
<circle cx="387.70" cy="35.10" r="2.3" fill="#4b0e74" stroke="none" stroke-width="0"/>
<line x1="387.70" y1="24.50" x2="387.70" y2="31.50" stroke="#18869a" stroke-width="0.8" />
<line x1="386.20" y1="24.50" x2="389.20" y2="24.50" stroke="#18869a" stroke-width="0.8" />
<line x1="386.20" y1="31.50" x2="389.20" y2="31.50" stroke="#18869a" stroke-width="0.8" />
<circle cx="387.70" cy="27.90" r="2.2" fill="#18869a" stroke="none" stroke-width="0"/>
<circle cx="455.00" cy="22.70" r="2.2" fill="#4b0e74" stroke="none" stroke-width="0"/>
<circle cx="455.00" cy="32.20" r="2.2" fill="#18869a" stroke="none" stroke-width="0"/>
<line x1="448.00" y1="40.50" x2="461.50" y2="40.50" stroke="#111" stroke-width="1.3" stroke-dasharray="3.3,1.9"/>
<text x="469.50" y="25.73" font-size="8.45" text-anchor="start" fill="#1a1a1a" font-weight="normal"  stroke="#1a1a1a" stroke-width="0.05">Biomimetic</text>
<text x="469.50" y="35.23" font-size="8.45" text-anchor="start" fill="#1a1a1a" font-weight="normal"  stroke="#1a1a1a" stroke-width="0.05">Graft</text>
<text x="469.50" y="43.53" font-size="8.45" text-anchor="start" fill="#1a1a1a" font-weight="normal"  stroke="#1a1a1a" stroke-width="0.05">FEA</text>
<text x="507.50" y="64.03" font-size="8.45" text-anchor="end" fill="#1a1a1a" font-weight="normal"  stroke="#1a1a1a" stroke-width="0.05">Sensitivity</text>
<line x1="470.50" y1="64.20" x2="507.50" y2="64.20" stroke="#222" stroke-width="0.7" />
<text x="507.50" y="73.93" font-size="8.45" text-anchor="end" fill="#4b0e74" font-weight="normal"  stroke="#4b0e74" stroke-width="0.05">24.2% (Exp)</text>
<text x="507.50" y="84.23" font-size="8.45" text-anchor="end" fill="#4b0e74" font-weight="normal"  stroke="#4b0e74" stroke-width="0.05">16.5% (FEA)</text>
<text x="507.50" y="94.33" font-size="8.45" text-anchor="end" fill="#18869a" font-weight="normal"  stroke="#18869a" stroke-width="0.05">1.3% (Exp)</text>
<text x="507.50" y="103.63" font-size="8.45" text-anchor="end" fill="#18869a" font-weight="normal"  stroke="#18869a" stroke-width="0.05">2.9% (FEA)</text>
<text x="522.40" y="7.20" font-size="9.5" text-anchor="start" fill="#000" font-weight="bold"  stroke="#000" stroke-width="0.05">d</text>
<text x="602.00" y="7.44" font-size="9.9" text-anchor="middle" fill="#1a1a1a" font-weight="normal"  stroke="#1a1a1a" stroke-width="0.05">Vessel expansion</text>
<rect x="554.4" y="16.0" width="102.0" height="129.2" fill="none" stroke="#111" stroke-width="1.4"/>
<line x1="554.40" y1="134.90" x2="556.90" y2="134.90" stroke="#111" stroke-width="1" />
<text x="551.80" y="138.00" font-size="8.65" text-anchor="end" fill="#1a1a1a" font-weight="normal"  stroke="#1a1a1a" stroke-width="0.05">0</text>
<line x1="554.40" y1="115.10" x2="556.90" y2="115.10" stroke="#111" stroke-width="1" />
<text x="551.80" y="118.20" font-size="8.65" text-anchor="end" fill="#1a1a1a" font-weight="normal"  stroke="#1a1a1a" stroke-width="0.05">2</text>
<line x1="554.40" y1="95.30" x2="556.90" y2="95.30" stroke="#111" stroke-width="1" />
<text x="551.80" y="98.40" font-size="8.65" text-anchor="end" fill="#1a1a1a" font-weight="normal"  stroke="#1a1a1a" stroke-width="0.05">4</text>
<line x1="554.40" y1="75.50" x2="556.90" y2="75.50" stroke="#111" stroke-width="1" />
<text x="551.80" y="78.60" font-size="8.65" text-anchor="end" fill="#1a1a1a" font-weight="normal"  stroke="#1a1a1a" stroke-width="0.05">6</text>
<line x1="554.40" y1="55.70" x2="556.90" y2="55.70" stroke="#111" stroke-width="1" />
<text x="551.80" y="58.80" font-size="8.65" text-anchor="end" fill="#1a1a1a" font-weight="normal"  stroke="#1a1a1a" stroke-width="0.05">8</text>
<line x1="554.40" y1="35.90" x2="556.90" y2="35.90" stroke="#111" stroke-width="1" />
<text x="551.80" y="39.00" font-size="8.65" text-anchor="end" fill="#1a1a1a" font-weight="normal"  stroke="#1a1a1a" stroke-width="0.05">10</text>
<line x1="554.40" y1="16.10" x2="556.90" y2="16.10" stroke="#111" stroke-width="1" />
<text x="551.80" y="19.20" font-size="8.65" text-anchor="end" fill="#1a1a1a" font-weight="normal"  stroke="#1a1a1a" stroke-width="0.05">12</text>
<line x1="656.40" y1="134.90" x2="653.90" y2="134.90" stroke="#111" stroke-width="1" />
<text x="660.00" y="138.00" font-size="8.65" text-anchor="start" fill="#1a1a1a" font-weight="normal"  stroke="#1a1a1a" stroke-width="0.05">0.0</text>
<line x1="656.40" y1="113.14" x2="653.90" y2="113.14" stroke="#111" stroke-width="1" />
<text x="660.00" y="116.24" font-size="8.65" text-anchor="start" fill="#1a1a1a" font-weight="normal"  stroke="#1a1a1a" stroke-width="0.05">0.2</text>
<line x1="656.40" y1="91.38" x2="653.90" y2="91.38" stroke="#111" stroke-width="1" />
<text x="660.00" y="94.48" font-size="8.65" text-anchor="start" fill="#1a1a1a" font-weight="normal"  stroke="#1a1a1a" stroke-width="0.05">0.4</text>
<line x1="656.40" y1="69.62" x2="653.90" y2="69.62" stroke="#111" stroke-width="1" />
<text x="660.00" y="72.72" font-size="8.65" text-anchor="start" fill="#1a1a1a" font-weight="normal"  stroke="#1a1a1a" stroke-width="0.05">0.6</text>
<line x1="656.40" y1="47.86" x2="653.90" y2="47.86" stroke="#111" stroke-width="1" />
<text x="660.00" y="50.96" font-size="8.65" text-anchor="start" fill="#1a1a1a" font-weight="normal"  stroke="#1a1a1a" stroke-width="0.05">0.8</text>
<line x1="656.40" y1="26.10" x2="653.90" y2="26.10" stroke="#111" stroke-width="1" />
<text x="660.00" y="29.20" font-size="8.65" text-anchor="start" fill="#1a1a1a" font-weight="normal"  stroke="#1a1a1a" stroke-width="0.05">1.0</text>
<line x1="556.40" y1="145.20" x2="556.40" y2="142.70" stroke="#111" stroke-width="1" />
<text x="556.40" y="156.70" font-size="8.65" text-anchor="middle" fill="#1a1a1a" font-weight="normal"  stroke="#1a1a1a" stroke-width="0.05">0</text>
<line x1="580.30" y1="145.20" x2="580.30" y2="142.70" stroke="#111" stroke-width="1" />
<text x="580.30" y="156.70" font-size="8.65" text-anchor="middle" fill="#1a1a1a" font-weight="normal"  stroke="#1a1a1a" stroke-width="0.05">200</text>
<line x1="604.20" y1="145.20" x2="604.20" y2="142.70" stroke="#111" stroke-width="1" />
<text x="604.20" y="156.70" font-size="8.65" text-anchor="middle" fill="#1a1a1a" font-weight="normal"  stroke="#1a1a1a" stroke-width="0.05">400</text>
<line x1="628.10" y1="145.20" x2="628.10" y2="142.70" stroke="#111" stroke-width="1" />
<text x="628.10" y="156.70" font-size="8.65" text-anchor="middle" fill="#1a1a1a" font-weight="normal"  stroke="#1a1a1a" stroke-width="0.05">600</text>
<line x1="652.00" y1="145.20" x2="652.00" y2="142.70" stroke="#111" stroke-width="1" />
<text x="652.00" y="156.70" font-size="8.65" text-anchor="middle" fill="#1a1a1a" font-weight="normal"  stroke="#1a1a1a" stroke-width="0.05">800</text>
<text x="605.40" y="167.56" font-size="9.1" text-anchor="middle" fill="#1a1a1a" font-weight="normal"  stroke="#1a1a1a" stroke-width="0.05">Flow rate (mL/min)</text>
<text transform="translate(541.8 80.2) rotate(-90)" font-size="8.3" text-anchor="middle" fill="#1a1a1a" stroke="#1a1a1a" stroke-width="0.05">OD/OD<tspan font-size="6.3" dy="1.26">initial</tspan><tspan dy="-1.26"> (%)</tspan></text>
<text transform="translate(677.2 80.7) rotate(90)" font-size="9.2" text-anchor="middle" fill="#1a1a1a" stroke="#1a1a1a" stroke-width="0.05">Norm. pressure</text>
<circle cx="565.40" cy="111.70" r="8.6" fill="#d75f63" stroke="none" stroke-width="0"/>
<circle cx="565.40" cy="111.70" r="5.3" fill="#ebb0b4" stroke="none" stroke-width="0"/>
<circle cx="642.00" cy="85.50" r="10" fill="#d75f63" stroke="none" stroke-width="0"/>
<circle cx="642.00" cy="85.50" r="7.4" fill="#ebb0b4" stroke="none" stroke-width="0"/>
<circle cx="643.06" cy="86.56" r="0.75" fill="#111" stroke="none" stroke-width="0"/>
<circle cx="644.47" cy="87.97" r="0.75" fill="#111" stroke="none" stroke-width="0"/>
<circle cx="642.00" cy="85.50" r="0.8" fill="#111" stroke="none" stroke-width="0"/>
<path d="M647.37,90.87 L644.12,90.31 L646.81,87.62 Z" fill="#111"/>
<circle cx="640.94" cy="86.56" r="0.75" fill="#111" stroke="none" stroke-width="0"/>
<circle cx="639.53" cy="87.97" r="0.75" fill="#111" stroke="none" stroke-width="0"/>
<circle cx="642.00" cy="85.50" r="0.8" fill="#111" stroke="none" stroke-width="0"/>
<path d="M636.63,90.87 L637.19,87.62 L639.88,90.31 Z" fill="#111"/>
<circle cx="640.94" cy="84.44" r="0.75" fill="#111" stroke="none" stroke-width="0"/>
<circle cx="639.53" cy="83.03" r="0.75" fill="#111" stroke="none" stroke-width="0"/>
<circle cx="642.00" cy="85.50" r="0.8" fill="#111" stroke="none" stroke-width="0"/>
<path d="M636.63,80.13 L639.88,80.69 L637.19,83.38 Z" fill="#111"/>
<circle cx="643.06" cy="84.44" r="0.75" fill="#111" stroke="none" stroke-width="0"/>
<circle cx="644.47" cy="83.03" r="0.75" fill="#111" stroke="none" stroke-width="0"/>
<circle cx="642.00" cy="85.50" r="0.8" fill="#111" stroke="none" stroke-width="0"/>
<path d="M647.37,80.13 L646.81,83.38 L644.12,80.69 Z" fill="#111"/>
<circle cx="556.40" cy="134.90" r="1.9" fill="#000" stroke="none" stroke-width="0"/>
<circle cx="559.56" cy="134.31" r="1.9" fill="#000" stroke="none" stroke-width="0"/>
<circle cx="562.71" cy="133.67" r="1.9" fill="#000" stroke="none" stroke-width="0"/>
<circle cx="565.87" cy="133.00" r="1.9" fill="#000" stroke="none" stroke-width="0"/>
<circle cx="569.03" cy="132.30" r="1.9" fill="#000" stroke="none" stroke-width="0"/>
<circle cx="572.18" cy="131.59" r="1.9" fill="#000" stroke="none" stroke-width="0"/>
<circle cx="575.34" cy="130.89" r="1.9" fill="#000" stroke="none" stroke-width="0"/>
<circle cx="578.45" cy="130.07" r="1.9" fill="#000" stroke="none" stroke-width="0"/>
<circle cx="581.51" cy="128.99" r="1.9" fill="#000" stroke="none" stroke-width="0"/>
<circle cx="584.38" cy="127.55" r="1.9" fill="#000" stroke="none" stroke-width="0"/>
<circle cx="587.10" cy="125.84" r="1.9" fill="#000" stroke="none" stroke-width="0"/>
<circle cx="589.73" cy="123.92" r="1.9" fill="#000" stroke="none" stroke-width="0"/>
<circle cx="592.17" cy="121.83" r="1.9" fill="#000" stroke="none" stroke-width="0"/>
<circle cx="594.37" cy="119.45" r="1.9" fill="#000" stroke="none" stroke-width="0"/>
<circle cx="596.43" cy="116.93" r="1.9" fill="#000" stroke="none" stroke-width="0"/>
<circle cx="598.39" cy="114.39" r="1.9" fill="#000" stroke="none" stroke-width="0"/>
<circle cx="600.35" cy="111.86" r="1.9" fill="#000" stroke="none" stroke-width="0"/>
<circle cx="602.36" cy="109.31" r="1.9" fill="#000" stroke="none" stroke-width="0"/>
<circle cx="604.32" cy="106.74" r="1.9" fill="#000" stroke="none" stroke-width="0"/>
<circle cx="606.23" cy="104.16" r="1.9" fill="#000" stroke="none" stroke-width="0"/>
<circle cx="608.15" cy="101.56" r="1.9" fill="#000" stroke="none" stroke-width="0"/>
<circle cx="610.06" cy="98.96" r="1.9" fill="#000" stroke="none" stroke-width="0"/>
<circle cx="612.02" cy="96.35" r="1.9" fill="#000" stroke="none" stroke-width="0"/>
<circle cx="613.98" cy="93.78" r="1.9" fill="#000" stroke="none" stroke-width="0"/>
<circle cx="615.94" cy="91.22" r="1.9" fill="#000" stroke="none" stroke-width="0"/>
<circle cx="617.90" cy="88.65" r="1.9" fill="#000" stroke="none" stroke-width="0"/>
<circle cx="619.86" cy="86.02" r="1.9" fill="#000" stroke="none" stroke-width="0"/>
<circle cx="621.78" cy="83.37" r="1.9" fill="#000" stroke="none" stroke-width="0"/>
<circle cx="623.64" cy="80.67" r="1.9" fill="#000" stroke="none" stroke-width="0"/>
<circle cx="625.46" cy="77.95" r="1.9" fill="#000" stroke="none" stroke-width="0"/>
<circle cx="627.23" cy="75.26" r="1.9" fill="#000" stroke="none" stroke-width="0"/>
<circle cx="629.00" cy="72.54" r="1.9" fill="#000" stroke="none" stroke-width="0"/>
<circle cx="630.77" cy="69.84" r="1.9" fill="#000" stroke="none" stroke-width="0"/>
<circle cx="632.58" cy="67.12" r="1.9" fill="#000" stroke="none" stroke-width="0"/>
<circle cx="634.45" cy="64.46" r="1.9" fill="#000" stroke="none" stroke-width="0"/>
<circle cx="636.31" cy="61.85" r="1.9" fill="#000" stroke="none" stroke-width="0"/>
<circle cx="638.18" cy="59.19" r="1.9" fill="#000" stroke="none" stroke-width="0"/>
<circle cx="639.95" cy="56.52" r="1.9" fill="#000" stroke="none" stroke-width="0"/>
<circle cx="641.62" cy="53.77" r="1.9" fill="#000" stroke="none" stroke-width="0"/>
<circle cx="643.20" cy="50.94" r="1.9" fill="#000" stroke="none" stroke-width="0"/>
<circle cx="644.68" cy="48.07" r="1.9" fill="#000" stroke="none" stroke-width="0"/>
<circle cx="646.07" cy="45.10" r="1.9" fill="#000" stroke="none" stroke-width="0"/>
<circle cx="647.31" cy="42.11" r="1.9" fill="#000" stroke="none" stroke-width="0"/>
<circle cx="648.41" cy="39.10" r="1.9" fill="#000" stroke="none" stroke-width="0"/>
<circle cx="649.42" cy="35.90" r="1.9" fill="#000" stroke="none" stroke-width="0"/>
<circle cx="650.33" cy="32.67" r="1.9" fill="#000" stroke="none" stroke-width="0"/>
<circle cx="651.14" cy="29.56" r="1.9" fill="#000" stroke="none" stroke-width="0"/>
<circle cx="651.95" cy="26.30" r="1.9" fill="#000" stroke="none" stroke-width="0"/>
<circle cx="652.00" cy="26.10" r="1.9" fill="#000" stroke="none" stroke-width="0"/>
<path d="M556.40,134.90 L568.35,127.48 L580.30,119.06 L592.25,112.33 L604.20,106.69 L628.10,101.54 L652.00,98.47" fill="none" stroke="#18869a" stroke-width="1.3" stroke-linejoin="round" />
<path d="M554.40,134.90 L556.40,132.90 L558.40,134.90 L556.40,136.90 Z" fill="#18869a"/>
<path d="M566.35,127.48 L568.35,125.48 L570.35,127.48 L568.35,129.48 Z" fill="#18869a"/>
<path d="M578.30,119.06 L580.30,117.06 L582.30,119.06 L580.30,121.06 Z" fill="#18869a"/>
<path d="M590.25,112.33 L592.25,110.33 L594.25,112.33 L592.25,114.33 Z" fill="#18869a"/>
<path d="M602.20,106.69 L604.20,104.69 L606.20,106.69 L604.20,108.69 Z" fill="#18869a"/>
<path d="M626.10,101.54 L628.10,99.54 L630.10,101.54 L628.10,103.54 Z" fill="#18869a"/>
<path d="M650.00,98.47 L652.00,96.47 L654.00,98.47 L652.00,100.47 Z" fill="#18869a"/>
<line x1="604.20" y1="104.69" x2="604.20" y2="108.69" stroke="#18869a" stroke-width="0.8" />
<line x1="602.70" y1="104.69" x2="605.70" y2="104.69" stroke="#18869a" stroke-width="0.8" />
<line x1="602.70" y1="108.69" x2="605.70" y2="108.69" stroke="#18869a" stroke-width="0.8" />
<line x1="628.10" y1="99.04" x2="628.10" y2="104.04" stroke="#18869a" stroke-width="0.8" />
<line x1="626.60" y1="99.04" x2="629.60" y2="99.04" stroke="#18869a" stroke-width="0.8" />
<line x1="626.60" y1="104.04" x2="629.60" y2="104.04" stroke="#18869a" stroke-width="0.8" />
<line x1="652.00" y1="96.47" x2="652.00" y2="100.47" stroke="#18869a" stroke-width="0.8" />
<line x1="650.50" y1="96.47" x2="653.50" y2="96.47" stroke="#18869a" stroke-width="0.8" />
<line x1="650.50" y1="100.47" x2="653.50" y2="100.47" stroke="#18869a" stroke-width="0.8" />
<path d="M556.40,134.90 L568.35,127.48 L580.30,108.57 L592.25,81.44 L604.20,58.67 L628.10,46.49 L652.00,44.12" fill="none" stroke="#4b0e74" stroke-width="1.3" stroke-linejoin="round" />
<path d="M554.10,133.30 L558.70,133.30 L556.40,137.10 Z" fill="#4b0e74"/>
<path d="M566.05,125.88 L570.65,125.88 L568.35,129.68 Z" fill="#4b0e74"/>
<path d="M578.00,106.97 L582.60,106.97 L580.30,110.77 Z" fill="#4b0e74"/>
<path d="M589.95,79.84 L594.55,79.84 L592.25,83.64 Z" fill="#4b0e74"/>
<path d="M601.90,57.07 L606.50,57.07 L604.20,60.87 Z" fill="#4b0e74"/>
<path d="M625.80,44.89 L630.40,44.89 L628.10,48.69 Z" fill="#4b0e74"/>
<path d="M649.70,42.52 L654.30,42.52 L652.00,46.32 Z" fill="#4b0e74"/>
<line x1="592.25" y1="78.44" x2="592.25" y2="84.44" stroke="#4b0e74" stroke-width="0.8" />
<line x1="590.75" y1="78.44" x2="593.75" y2="78.44" stroke="#4b0e74" stroke-width="0.8" />
<line x1="590.75" y1="84.44" x2="593.75" y2="84.44" stroke="#4b0e74" stroke-width="0.8" />
<line x1="604.20" y1="55.47" x2="604.20" y2="61.87" stroke="#4b0e74" stroke-width="0.8" />
<line x1="602.70" y1="55.47" x2="605.70" y2="55.47" stroke="#4b0e74" stroke-width="0.8" />
<line x1="602.70" y1="61.87" x2="605.70" y2="61.87" stroke="#4b0e74" stroke-width="0.8" />
<line x1="628.10" y1="41.99" x2="628.10" y2="50.99" stroke="#4b0e74" stroke-width="0.8" />
<line x1="626.60" y1="41.99" x2="629.60" y2="41.99" stroke="#4b0e74" stroke-width="0.8" />
<line x1="626.60" y1="50.99" x2="629.60" y2="50.99" stroke="#4b0e74" stroke-width="0.8" />
<line x1="652.00" y1="39.62" x2="652.00" y2="48.62" stroke="#4b0e74" stroke-width="0.8" />
<line x1="650.50" y1="39.62" x2="653.50" y2="39.62" stroke="#4b0e74" stroke-width="0.8" />
<line x1="650.50" y1="48.62" x2="653.50" y2="48.62" stroke="#4b0e74" stroke-width="0.8" />
<line x1="560.30" y1="22.40" x2="574.50" y2="22.40" stroke="#111" stroke-width="1.3" />
<circle cx="567.40" cy="22.40" r="1.9" fill="#000" stroke="none" stroke-width="0"/>
<line x1="560.30" y1="31.20" x2="574.50" y2="31.20" stroke="#4b0e74" stroke-width="1.3" />
<path d="M565.1,29.6 L569.7,29.6 L567.4,33.4 Z" fill="#4b0e74"/>
<line x1="560.30" y1="40.00" x2="574.50" y2="40.00" stroke="#18869a" stroke-width="1.3" />
<path d="M565.4,40 L567.4,38 L569.4,40 L567.4,42 Z" fill="#18869a"/>
<text x="582.70" y="25.43" font-size="8.45" text-anchor="start" fill="#1a1a1a" font-weight="normal"  stroke="#1a1a1a" stroke-width="0.05">Fluid</text>
<text x="582.70" y="34.23" font-size="8.45" text-anchor="start" fill="#1a1a1a" font-weight="normal"  stroke="#1a1a1a" stroke-width="0.05">Biomimetic</text>
<text x="582.70" y="43.03" font-size="8.45" text-anchor="start" fill="#1a1a1a" font-weight="normal"  stroke="#1a1a1a" stroke-width="0.05">Graft</text>
<text x="0.00" y="185.80" font-size="9.5" text-anchor="start" fill="#000" font-weight="bold"  stroke="#000" stroke-width="0.05">e</text>
<text x="84.20" y="186.14" font-size="9.9" text-anchor="middle" fill="#1a1a1a" font-weight="normal"  stroke="#1a1a1a" stroke-width="0.05">Simulated dimensions</text>
<rect x="31.7" y="194.9" width="128.10000000000002" height="124.6" fill="none" stroke="#111" stroke-width="1.4"/>
<line x1="31.70" y1="301.40" x2="34.20" y2="301.40" stroke="#111" stroke-width="1" />
<text x="29.50" y="304.50" font-size="8.65" text-anchor="end" fill="#1a1a1a" font-weight="normal"  stroke="#1a1a1a" stroke-width="0.05">1.0</text>
<line x1="31.70" y1="270.05" x2="34.20" y2="270.05" stroke="#111" stroke-width="1" />
<text x="29.50" y="273.15" font-size="8.65" text-anchor="end" fill="#1a1a1a" font-weight="normal"  stroke="#1a1a1a" stroke-width="0.05">1.5</text>
<line x1="31.70" y1="238.70" x2="34.20" y2="238.70" stroke="#111" stroke-width="1" />
<text x="29.50" y="241.80" font-size="8.65" text-anchor="end" fill="#1a1a1a" font-weight="normal"  stroke="#1a1a1a" stroke-width="0.05">2.0</text>
<line x1="31.70" y1="207.35" x2="34.20" y2="207.35" stroke="#111" stroke-width="1" />
<text x="29.50" y="210.45" font-size="8.65" text-anchor="end" fill="#1a1a1a" font-weight="normal"  stroke="#1a1a1a" stroke-width="0.05">2.5</text>
<text x="31.35" y="330.40" font-size="8.65" text-anchor="middle" fill="#1a1a1a" font-weight="normal"  stroke="#1a1a1a" stroke-width="0.05">6.4</text>
<line x1="54.60" y1="319.50" x2="54.60" y2="317.00" stroke="#111" stroke-width="1" />
<text x="54.60" y="330.40" font-size="8.65" text-anchor="middle" fill="#1a1a1a" font-weight="normal"  stroke="#1a1a1a" stroke-width="0.05">6.6</text>
<line x1="77.85" y1="319.50" x2="77.85" y2="317.00" stroke="#111" stroke-width="1" />
<text x="77.85" y="330.40" font-size="8.65" text-anchor="middle" fill="#1a1a1a" font-weight="normal"  stroke="#1a1a1a" stroke-width="0.05">6.8</text>
<line x1="101.10" y1="319.50" x2="101.10" y2="317.00" stroke="#111" stroke-width="1" />
<text x="101.10" y="330.40" font-size="8.65" text-anchor="middle" fill="#1a1a1a" font-weight="normal"  stroke="#1a1a1a" stroke-width="0.05">7.0</text>
<line x1="124.35" y1="319.50" x2="124.35" y2="317.00" stroke="#111" stroke-width="1" />
<text x="124.35" y="330.40" font-size="8.65" text-anchor="middle" fill="#1a1a1a" font-weight="normal"  stroke="#1a1a1a" stroke-width="0.05">7.2</text>
<line x1="147.60" y1="319.50" x2="147.60" y2="317.00" stroke="#111" stroke-width="1" />
<text x="147.60" y="330.40" font-size="8.65" text-anchor="middle" fill="#1a1a1a" font-weight="normal"  stroke="#1a1a1a" stroke-width="0.05">7.4</text>
<text x="95.50" y="342.06" font-size="9.1" text-anchor="middle" fill="#1a1a1a" font-weight="normal"  stroke="#1a1a1a" stroke-width="0.05">OD (mm)</text>
<text transform="translate(15.6 253.2) rotate(-90)" font-size="9.0" text-anchor="middle" fill="#1a1a1a" stroke="#1a1a1a" stroke-width="0.05">ΔT<tspan font-size="6.6" dy="1.32">Heater</tspan><tspan dy="-1.32"> (°C)</tspan></text>
<path d="M60.41,259.39 L77.85,255.63 L95.29,252.49 L112.72,244.97 L130.16,237.45" fill="none" stroke="#4b0e74" stroke-width="1.3" stroke-linejoin="round" />
<path d="M60.41,297.01 L77.85,288.86 L95.29,280.71 L112.72,271.93 L130.16,263.78" fill="none" stroke="#4b0e74" stroke-width="1.3" stroke-linejoin="round" />
<path d="M60.41,259.39 L77.85,263.78 L130.16,263.78" fill="none" stroke="#4b0e74" stroke-width="1.45" stroke-linejoin="round" stroke-dasharray="3.8,2.5"/>
<rect x="58.61" y="257.59" width="3.6" height="3.6" fill="#4b0e74"/>
<rect x="76.05" y="253.83" width="3.6" height="3.6" fill="#4b0e74"/>
<rect x="93.49" y="250.69" width="3.6" height="3.6" fill="#4b0e74"/>
<rect x="110.92" y="243.17" width="3.6" height="3.6" fill="#4b0e74"/>
<rect x="128.36" y="235.65" width="3.6" height="3.6" fill="#4b0e74"/>
<circle cx="60.41" cy="297.01" r="1.9" fill="#4b0e74" stroke="none" stroke-width="0"/>
<circle cx="77.85" cy="288.86" r="1.9" fill="#4b0e74" stroke="none" stroke-width="0"/>
<circle cx="95.29" cy="280.71" r="1.9" fill="#4b0e74" stroke="none" stroke-width="0"/>
<circle cx="112.72" cy="271.93" r="1.9" fill="#4b0e74" stroke="none" stroke-width="0"/>
<circle cx="130.16" cy="263.78" r="1.9" fill="#4b0e74" stroke="none" stroke-width="0"/>
<path d="M75.75,265.38 L79.95,265.38 L77.85,261.78 Z" fill="#4b0e74"/>
<path d="M93.19,265.38 L97.39,265.38 L95.29,261.78 Z" fill="#4b0e74"/>
<path d="M110.62,265.38 L114.82,265.38 L112.72,261.78 Z" fill="#4b0e74"/>
<circle cx="47.20" cy="259.60" r="8.3" fill="#d75f63" stroke="none" stroke-width="0"/>
<circle cx="47.20" cy="259.60" r="4.8" fill="#ebb0b4" stroke="none" stroke-width="0"/>
<circle cx="47.20" cy="302.60" r="8.3" fill="#d75f63" stroke="none" stroke-width="0"/>
<circle cx="47.20" cy="302.60" r="6.8" fill="#ebb0b4" stroke="none" stroke-width="0"/>
<circle cx="146.80" cy="236.70" r="10.6" fill="#d75f63" stroke="none" stroke-width="0"/>
<circle cx="146.80" cy="236.70" r="4.8" fill="#ebb0b4" stroke="none" stroke-width="0"/>
<circle cx="146.80" cy="265.50" r="10.6" fill="#d75f63" stroke="none" stroke-width="0"/>
<circle cx="146.80" cy="265.50" r="6.5" fill="#ebb0b4" stroke="none" stroke-width="0"/>
<line x1="37.20" y1="202.20" x2="50.80" y2="202.20" stroke="#4b0e74" stroke-width="1.3" />
<rect x="42" y="200.4" width="3.6" height="3.6" fill="#4b0e74"/>
<line x1="37.20" y1="211.80" x2="50.80" y2="211.80" stroke="#4b0e74" stroke-width="1.3" />
<circle cx="43.80" cy="211.80" r="1.9" fill="#4b0e74" stroke="none" stroke-width="0"/>
<line x1="37.20" y1="222.90" x2="50.80" y2="222.90" stroke="#4b0e74" stroke-width="1.3" stroke-dasharray="2.5,2"/>
<path d="M41.7,224.5 L45.9,224.5 L43.8,220.9 Z" fill="#4b0e74"/>
<text x="58.80" y="205.12" font-size="8.15" text-anchor="start" fill="#1a1a1a" font-weight="normal"  stroke="#1a1a1a" stroke-width="0.05">Δt (small ID)</text>
<text x="58.80" y="214.72" font-size="8.15" text-anchor="start" fill="#1a1a1a" font-weight="normal"  stroke="#1a1a1a" stroke-width="0.05">Δt (large ID)</text>
<text x="58.80" y="225.82" font-size="8.15" text-anchor="start" fill="#1a1a1a" font-weight="normal"  stroke="#1a1a1a" stroke-width="0.05">ΔID</text>
<text x="64.00" y="314.23" font-size="8.45" text-anchor="start" fill="#4b0e74" font-weight="normal"  stroke="#4b0e74" stroke-width="0.05">Biomimetic (no skin)</text>
<text x="174.60" y="184.40" font-size="9.5" text-anchor="start" fill="#000" font-weight="bold"  stroke="#000" stroke-width="0.05">f</text>
<text x="261.20" y="186.34" font-size="9.9" text-anchor="middle" fill="#1a1a1a" font-weight="normal"  stroke="#1a1a1a" stroke-width="0.05">Skin layer</text>
<rect x="203.5" y="195.5" width="131.10000000000002" height="125.89999999999998" fill="none" stroke="#111" stroke-width="1.4"/>
<line x1="268.80" y1="195.50" x2="268.80" y2="321.40" stroke="#c8c8c8" stroke-width="0.6" stroke-dasharray="1,1.5"/>
<line x1="200.50" y1="301.54" x2="203.50" y2="301.54" stroke="#111" stroke-width="1" />
<text x="199.50" y="304.64" font-size="8.65" text-anchor="end" fill="#1a1a1a" font-weight="normal"  stroke="#1a1a1a" stroke-width="0.05">3</text>
<line x1="200.50" y1="277.03" x2="203.50" y2="277.03" stroke="#111" stroke-width="1" />
<text x="199.50" y="280.13" font-size="8.65" text-anchor="end" fill="#1a1a1a" font-weight="normal"  stroke="#1a1a1a" stroke-width="0.05">6</text>
<line x1="200.50" y1="252.52" x2="203.50" y2="252.52" stroke="#111" stroke-width="1" />
<text x="199.50" y="255.62" font-size="8.65" text-anchor="end" fill="#1a1a1a" font-weight="normal"  stroke="#1a1a1a" stroke-width="0.05">9</text>
<line x1="200.50" y1="228.01" x2="203.50" y2="228.01" stroke="#111" stroke-width="1" />
<text x="199.50" y="231.11" font-size="8.65" text-anchor="end" fill="#1a1a1a" font-weight="normal"  stroke="#1a1a1a" stroke-width="0.05">12</text>
<line x1="200.50" y1="203.50" x2="203.50" y2="203.50" stroke="#111" stroke-width="1" />
<text x="199.50" y="206.60" font-size="8.65" text-anchor="end" fill="#1a1a1a" font-weight="normal"  stroke="#1a1a1a" stroke-width="0.05">15</text>
<line x1="201.70" y1="313.80" x2="203.50" y2="313.80" stroke="#111" stroke-width="1" />
<line x1="201.70" y1="289.28" x2="203.50" y2="289.28" stroke="#111" stroke-width="1" />
<line x1="201.70" y1="264.77" x2="203.50" y2="264.77" stroke="#111" stroke-width="1" />
<line x1="201.70" y1="240.26" x2="203.50" y2="240.26" stroke="#111" stroke-width="1" />
<line x1="201.70" y1="215.75" x2="203.50" y2="215.75" stroke="#111" stroke-width="1" />
<line x1="220.30" y1="321.40" x2="220.30" y2="323.90" stroke="#111" stroke-width="1" />
<line x1="252.50" y1="321.40" x2="252.50" y2="323.90" stroke="#111" stroke-width="1" />
<line x1="284.80" y1="321.40" x2="284.80" y2="323.90" stroke="#111" stroke-width="1" />
<line x1="317.60" y1="321.40" x2="317.60" y2="323.90" stroke="#111" stroke-width="1" />
<text transform="translate(188.9 259) rotate(-90)" font-size="9.2" text-anchor="middle" fill="#1a1a1a" stroke="#1a1a1a" stroke-width="0.05">ΔT<tspan font-size="6.8" dy="1.36">Heater</tspan><tspan dy="-1.36"> (°C)</tspan></text>
<text transform="translate(220.00 328.8) rotate(-28)" font-size="8.65" text-anchor="end" fill="#1a1a1a" dy="6" stroke="#1a1a1a" stroke-width="0.05">Flow</text>
<text transform="translate(252.20 328.8) rotate(-28)" font-size="8.65" text-anchor="end" fill="#1a1a1a" dy="6" stroke="#1a1a1a" stroke-width="0.05">No-flow</text>
<text transform="translate(284.50 328.8) rotate(-28)" font-size="8.65" text-anchor="end" fill="#1a1a1a" dy="6" stroke="#1a1a1a" stroke-width="0.05">Flow</text>
<text transform="translate(317.30 328.8) rotate(-28)" font-size="8.65" text-anchor="end" fill="#1a1a1a" dy="6" stroke="#1a1a1a" stroke-width="0.05">No-flow</text>
<path d="M220.30,304.00 L252.60,236.10" fill="none" stroke="#4b0e74" stroke-width="1.3" stroke-linejoin="round" />
<path d="M220.30,287.00 L252.50,266.00" fill="none" stroke="#4b0e74" stroke-width="1.45" stroke-linejoin="round" stroke-dasharray="3.8,2.5"/>
<circle cx="220.30" cy="297.00" r="2.8" fill="#4b0e74" stroke="none" stroke-width="0"/>
<circle cx="220.30" cy="289.30" r="2.2" fill="#fff" stroke="#4b0e74" stroke-width="1.2"/>
<circle cx="252.30" cy="242.80" r="2.8" fill="#4b0e74" stroke="none" stroke-width="0"/>
<circle cx="252.50" cy="259.40" r="2.2" fill="#fff" stroke="#4b0e74" stroke-width="1.2"/>
<line x1="252.50" y1="258.00" x2="252.50" y2="261.00" stroke="#4b0e74" stroke-width="0.8" />
<path d="M283.60,280.00 L317.50,238.40" fill="none" stroke="#18869a" stroke-width="1.3" stroke-linejoin="round" />
<path d="M285.10,271.00 L317.50,263.80" fill="none" stroke="#18869a" stroke-width="1.45" stroke-linejoin="round" stroke-dasharray="3.8,2.5"/>
<line x1="317.50" y1="228.40" x2="317.50" y2="248.30" stroke="#18869a" stroke-width="0.8" />
<line x1="315.70" y1="228.40" x2="319.30" y2="228.40" stroke="#18869a" stroke-width="0.8" />
<line x1="315.70" y1="248.30" x2="319.30" y2="248.30" stroke="#18869a" stroke-width="0.8" />
<circle cx="317.50" cy="238.40" r="2.8" fill="#18869a" stroke="none" stroke-width="0"/>
<circle cx="285.10" cy="270.70" r="2.8" fill="#18869a" stroke="none" stroke-width="0"/>
<line x1="285.10" y1="274.40" x2="285.10" y2="281.90" stroke="#18869a" stroke-width="0.8" />
<line x1="283.60" y1="274.40" x2="286.60" y2="274.40" stroke="#18869a" stroke-width="0.8" />
<line x1="283.60" y1="281.90" x2="286.60" y2="281.90" stroke="#18869a" stroke-width="0.8" />
<circle cx="285.10" cy="277.70" r="2.2" fill="#fff" stroke="#18869a" stroke-width="1.2"/>
<line x1="317.50" y1="258.50" x2="317.50" y2="269.70" stroke="#18869a" stroke-width="0.8" />
<line x1="315.70" y1="258.50" x2="319.30" y2="258.50" stroke="#18869a" stroke-width="0.8" />
<line x1="315.70" y1="269.70" x2="319.30" y2="269.70" stroke="#18869a" stroke-width="0.8" />
<circle cx="317.50" cy="263.80" r="2.2" fill="#fff" stroke="#18869a" stroke-width="1.2"/>
<line x1="260.80" y1="240.00" x2="260.80" y2="252.00" stroke="#111" stroke-width="1.3" />
<path d="M258.6,251 L263,251 L260.8,257.5 Z" fill="#111"/>
<line x1="325.50" y1="236.20" x2="325.50" y2="258.00" stroke="#111" stroke-width="1.3" />
<path d="M323.3,257 L327.7,257 L325.5,264 Z" fill="#111"/>
<text x="217.70" y="316.03" font-size="8.45" text-anchor="start" fill="#4b0e74" font-weight="normal"  stroke="#4b0e74" stroke-width="0.05">Biomimetic</text>
<text x="300.30" y="316.03" font-size="8.45" text-anchor="middle" fill="#18869a" font-weight="normal"  stroke="#18869a" stroke-width="0.05">Graft</text>
<circle cx="215.10" cy="203.00" r="2.8" fill="#000" stroke="none" stroke-width="0"/>
<line x1="208.20" y1="213.30" x2="221.60" y2="213.30" stroke="#111" stroke-width="1.3" />
<text x="229.80" y="205.90" font-size="8.1" text-anchor="start" fill="#1a1a1a" font-weight="normal"  stroke="#1a1a1a" stroke-width="0.05">Exp</text>
<text x="229.80" y="216.20" font-size="8.1" text-anchor="start" fill="#1a1a1a" font-weight="normal"  stroke="#1a1a1a" stroke-width="0.05">FEA</text>
<circle cx="266.00" cy="203.00" r="2.4" fill="#fff" stroke="#000" stroke-width="1.3"/>
<line x1="259.00" y1="213.30" x2="273.20" y2="213.30" stroke="#111" stroke-width="1.3" stroke-dasharray="3,2.5"/>
<text x="281.00" y="205.90" font-size="8.1" text-anchor="start" fill="#1a1a1a" font-weight="normal"  stroke="#1a1a1a" stroke-width="0.05">Exp + skin</text>
<text x="281.00" y="216.20" font-size="8.1" text-anchor="start" fill="#1a1a1a" font-weight="normal" xml:space="preserve" stroke="#1a1a1a" stroke-width="0.05">FEA  + skin</text>
<text x="343.60" y="211.30" font-size="12" text-anchor="start" fill="#000" font-weight="bold"  stroke="#000" stroke-width="0.05">g</text>
<text x="451.00" y="186.14" font-size="9.9" text-anchor="middle" fill="#1a1a1a" font-weight="normal"  stroke="#1a1a1a" stroke-width="0.05">Transient flow</text>
<rect x="439.0" y="195.8" width="12.8" height="126.80000000000001" fill="#efefef"/>
<rect x="464.0" y="195.8" width="12.8" height="126.80000000000001" fill="#efefef"/>
<rect x="489.0" y="195.8" width="12.8" height="126.80000000000001" fill="#efefef"/>
<rect x="514.2" y="195.8" width="12.8" height="126.80000000000001" fill="#efefef"/>
<rect x="538" y="195.8" width="19.299999999999955" height="126.80000000000001" fill="#d9d9d9"/>
<path d="M379.90,322.60 L380.24,310.81 L380.59,300.31 L380.93,290.49 L381.28,282.74 L381.62,278.12 L381.97,274.62 L382.31,271.92 L382.66,269.68 L383.00,267.77 L383.35,266.19 L383.69,264.88 L384.03,263.73 L384.38,262.68 L384.72,261.72 L385.07,260.86 L385.41,260.10 L385.76,259.42 L386.10,258.83 L386.45,258.30 L386.79,257.80 L387.14,257.35 L387.48,256.92 L387.82,256.53 L388.17,256.16 L388.51,255.82 L388.86,255.49 L389.20,255.18 L389.55,254.89 L389.89,254.61 L390.24,254.35 L390.58,254.09 L390.93,253.85 L391.27,253.62 L391.61,253.40 L391.96,253.19 L392.30,252.98 L392.65,252.78 L392.99,252.58 L393.34,252.39 L393.68,252.20 L394.03,252.01 L394.37,251.82 L394.72,251.64 L395.06,251.46 L395.40,251.28 L395.75,251.11 L396.09,250.95 L396.44,250.79 L396.78,250.64 L397.13,250.50 L397.47,250.37 L397.82,250.26 L398.16,250.15 L398.51,250.05 L398.85,249.96 L399.19,249.87 L399.54,249.79 L399.88,249.71 L400.23,249.63 L400.57,249.56 L400.92,249.49 L401.26,249.42 L401.61,249.36 L401.95,249.29 L402.29,249.23 L402.64,249.16 L402.98,249.10 L403.33,249.03 L403.67,248.97 L404.02,248.90 L404.36,248.84 L404.71,248.78 L405.05,248.72 L405.40,248.66 L405.74,248.60 L406.08,248.55 L406.43,248.49 L406.77,248.43 L407.12,248.38 L407.46,248.32 L407.81,248.27 L408.15,248.21 L408.50,248.15 L408.84,248.10 L409.19,248.04 L409.53,247.98 L409.87,247.92 L410.22,247.85 L410.56,247.79 L410.91,247.72 L411.25,247.66 L411.60,247.59 L411.94,247.53 L412.29,247.46 L412.63,247.40 L412.98,247.33 L413.32,247.27 L413.66,247.21 L414.01,247.15 L414.35,247.10 L414.70,247.04 L415.04,246.99 L415.39,246.95 L415.73,246.90 L416.08,246.85 L416.42,246.80 L416.77,246.76 L417.11,246.71 L417.45,246.67 L417.80,246.63 L418.14,246.59 L418.49,246.55 L418.83,246.51 L419.18,246.47 L419.52,246.43 L419.87,246.40 L420.21,246.36 L420.56,246.33 L420.90,246.30" fill="none" stroke="#4b0e74" stroke-width="1.4" stroke-linejoin="round" />
<path d="M426.00,245.90 L426.22,245.88 L426.45,245.86 L426.67,245.83 L426.90,245.81 L427.12,245.79 L427.34,245.77 L427.57,245.74 L427.79,245.72 L428.02,245.70 L428.24,245.68 L428.46,245.65 L428.69,245.63 L428.91,245.61 L429.14,245.59 L429.36,245.56 L429.58,245.54 L429.81,245.52 L430.03,245.50 L430.26,245.47 L430.48,245.45 L430.71,245.43 L430.93,245.41 L431.15,245.38 L431.38,245.36 L431.60,245.34 L431.83,245.32 L432.05,245.30 L432.27,245.27 L432.50,245.25 L432.72,245.23 L432.95,245.21 L433.17,245.18 L433.39,245.16 L433.62,245.14 L433.84,245.12 L434.07,245.09 L434.29,245.07 L434.51,245.05 L434.74,245.03 L434.96,245.00 L435.19,244.98 L435.41,244.96 L435.63,244.94 L435.86,244.91 L436.08,244.89 L436.31,244.87 L436.53,244.85 L436.75,244.82 L436.98,244.80 L437.20,244.78 L437.43,244.76 L437.65,244.73 L437.87,244.71 L438.10,244.69 L438.32,244.67 L438.55,244.65 L438.77,244.62 L438.99,244.60 L439.22,242.88 L439.44,242.50 L439.67,242.15 L439.89,241.83 L440.12,241.55 L440.34,241.29 L440.56,241.06 L440.79,240.85 L441.01,240.66 L441.24,240.49 L441.46,240.34 L441.68,240.20 L441.91,240.07 L442.13,239.96 L442.36,239.86 L442.58,239.76 L442.80,239.68 L443.03,239.61 L443.25,239.54 L443.48,239.48 L443.70,239.42 L443.92,239.37 L444.15,239.32 L444.37,239.28 L444.60,239.25 L444.82,239.21 L445.04,239.18 L445.27,239.15 L445.49,239.13 L445.72,239.11 L445.94,239.09 L446.16,239.07 L446.39,239.05 L446.61,239.04 L446.84,239.02 L447.06,239.01 L447.28,239.00 L447.51,238.99 L447.73,238.98 L447.96,238.98 L448.18,238.97 L448.40,238.96 L448.63,238.96 L448.85,238.95 L449.08,238.95 L449.30,238.94 L449.53,238.94 L449.75,238.93 L449.97,238.93 L450.20,238.93 L450.42,238.92 L450.65,238.92 L450.87,238.92 L451.09,238.92 L451.32,238.92 L451.54,238.91 L451.77,238.91 L451.99,239.28 L452.21,239.66 L452.44,240.02 L452.66,240.33 L452.89,240.62 L453.11,240.88 L453.33,241.12 L453.56,241.33 L453.78,241.52 L454.01,241.69 L454.23,241.85 L454.45,241.99 L454.68,242.11 L454.90,242.23 L455.13,242.33 L455.35,242.43 L455.57,242.51 L455.80,242.59 L456.02,242.66 L456.25,242.72 L456.47,242.77 L456.69,242.83 L456.92,242.87 L457.14,242.91 L457.37,242.95 L457.59,242.98 L457.81,243.02 L458.04,243.04 L458.26,243.07 L458.49,243.09 L458.71,243.11 L458.94,243.13 L459.16,243.15 L459.38,243.16 L459.61,243.17 L459.83,243.19 L460.06,243.20 L460.28,243.21 L460.50,243.22 L460.73,243.22 L460.95,243.23 L461.18,243.24 L461.40,243.24 L461.62,243.25 L461.85,243.25 L462.07,243.26 L462.30,243.26 L462.52,243.27 L462.74,243.27 L462.97,243.27 L463.19,243.28 L463.42,243.28 L463.64,243.28 L463.86,243.28 L464.09,243.13 L464.31,242.72 L464.54,242.35 L464.76,242.01 L464.98,241.71 L465.21,241.44 L465.43,241.19 L465.66,240.97 L465.88,240.77 L466.10,240.59 L466.33,240.43 L466.55,240.28 L466.78,240.15 L467.00,240.02 L467.22,239.92 L467.45,239.82 L467.67,239.73 L467.90,239.65 L468.12,239.58 L468.35,239.51 L468.57,239.45 L468.79,239.40 L469.02,239.35 L469.24,239.31 L469.47,239.27 L469.69,239.23 L469.91,239.20 L470.14,239.17 L470.36,239.14 L470.59,239.12 L470.81,239.10 L471.03,239.08 L471.26,239.06 L471.48,239.05 L471.71,239.03 L471.93,239.02 L472.15,239.01 L472.38,239.00 L472.60,238.99 L472.83,238.98 L473.05,238.97 L473.27,238.96 L473.50,238.96 L473.72,238.95 L473.95,238.95 L474.17,238.94 L474.39,238.94 L474.62,238.94 L474.84,238.93 L475.07,238.93 L475.29,238.93 L475.51,238.92 L475.74,238.92 L475.96,238.92 L476.19,238.92 L476.41,238.92 L476.63,238.91 L476.86,239.03 L477.08,239.44 L477.31,239.82 L477.53,240.15 L477.76,240.46 L477.98,240.73 L478.20,240.98 L478.43,241.21 L478.65,241.41 L478.88,241.59 L479.10,241.76 L479.32,241.91 L479.55,242.04 L479.77,242.16 L480.00,242.27 L480.22,242.37 L480.44,242.46 L480.67,242.54 L480.89,242.62 L481.12,242.68 L481.34,242.74 L481.56,242.80 L481.79,242.85 L482.01,242.89 L482.24,242.93 L482.46,242.97 L482.68,243.00 L482.91,243.03 L483.13,243.05 L483.36,243.08 L483.58,243.10 L483.80,243.12 L484.03,243.14 L484.25,243.15 L484.48,243.17 L484.70,243.18 L484.92,243.19 L485.15,243.20 L485.37,243.21 L485.60,243.22 L485.82,243.23 L486.04,243.23 L486.27,243.24 L486.49,243.25 L486.72,243.25 L486.94,243.26 L487.17,243.26 L487.39,243.26 L487.61,243.27 L487.84,243.27 L488.06,243.27 L488.29,243.28 L488.51,243.28 L488.73,243.28 L488.96,243.28 L489.18,242.95 L489.41,242.56 L489.63,242.20 L489.85,241.88 L490.08,241.60 L490.30,241.33 L490.53,241.10 L490.75,240.89 L490.97,240.69 L491.20,240.52 L491.42,240.36 L491.65,240.22 L491.87,240.09 L492.09,239.98 L492.32,239.87 L492.54,239.78 L492.77,239.69 L492.99,239.62 L493.21,239.55 L493.44,239.49 L493.66,239.43 L493.89,239.38 L494.11,239.33 L494.33,239.29 L494.56,239.25 L494.78,239.22 L495.01,239.19 L495.23,239.16 L495.45,239.13 L495.68,239.11 L495.90,239.09 L496.13,239.07 L496.35,239.06 L496.58,239.04 L496.80,239.03 L497.02,239.01 L497.25,239.00 L497.47,238.99 L497.70,238.98 L497.92,238.98 L498.14,238.97 L498.37,238.96 L498.59,238.96 L498.82,238.95 L499.04,238.95 L499.26,238.94 L499.49,238.94 L499.71,238.93 L499.94,238.93 L500.16,238.93 L500.38,238.92 L500.61,238.92 L500.83,238.92 L501.06,238.92 L501.28,238.92 L501.50,238.91 L501.73,238.91 L501.95,239.21 L502.18,239.60 L502.40,239.96 L502.62,240.28 L502.85,240.58 L503.07,240.84 L503.30,241.08 L503.52,241.29 L503.74,241.49 L503.97,241.66 L504.19,241.82 L504.42,241.96 L504.64,242.09 L504.86,242.21 L505.09,242.32 L505.31,242.41 L505.54,242.50 L505.76,242.58 L505.99,242.65 L506.21,242.71 L506.43,242.77 L506.66,242.82 L506.88,242.86 L507.11,242.91 L507.33,242.94 L507.55,242.98 L507.78,243.01 L508.00,243.04 L508.23,243.06 L508.45,243.09 L508.67,243.11 L508.90,243.13 L509.12,243.14 L509.35,243.16 L509.57,243.17 L509.79,243.18 L510.02,243.20 L510.24,243.21 L510.47,243.21 L510.69,243.22 L510.91,243.23 L511.14,243.24 L511.36,243.24 L511.59,243.25 L511.81,243.25 L512.03,243.26 L512.26,243.26 L512.48,243.27 L512.71,243.27 L512.93,243.27 L513.15,243.27 L513.38,243.28 L513.60,243.28 L513.83,243.28 L514.05,243.28 L514.27,243.15 L514.50,242.74 L514.72,242.37 L514.95,242.03 L515.17,241.73 L515.40,241.46 L515.62,241.21 L515.84,240.98 L516.07,240.78 L516.29,240.60 L516.52,240.44 L516.74,240.29 L516.96,240.15 L517.19,240.03 L517.41,239.92 L517.64,239.82 L517.86,239.73 L518.08,239.65 L518.31,239.58 L518.53,239.51 L518.76,239.45 L518.98,239.40 L519.20,239.35 L519.43,239.31 L519.65,239.27 L519.88,239.23 L520.10,239.20 L520.32,239.17 L520.55,239.15 L520.77,239.12 L521.00,239.10 L521.22,239.08 L521.44,239.06 L521.67,239.05 L521.89,239.03 L522.12,239.02 L522.34,239.01 L522.56,239.00 L522.79,238.99 L523.01,238.98 L523.24,238.97 L523.46,238.97 L523.68,238.96 L523.91,238.95 L524.13,238.95 L524.36,238.94 L524.58,238.94 L524.81,238.94 L525.03,238.93 L525.25,238.93 L525.48,238.93 L525.70,238.92 L525.93,238.92 L526.15,238.92 L526.37,238.92 L526.60,238.92 L526.82,238.91 L527.05,239.00 L527.27,239.42 L527.49,239.80 L527.72,240.13 L527.94,240.44 L528.17,240.72 L528.39,240.97 L528.61,241.19 L528.84,241.40 L529.06,241.58 L529.29,241.75 L529.51,241.90 L529.73,242.03 L529.96,242.16 L530.18,242.27 L530.41,242.37 L530.63,242.46 L530.85,242.54 L531.08,242.61 L531.30,242.68 L531.53,242.74 L531.75,242.79 L531.97,242.84 L532.20,242.89 L532.42,242.93 L532.65,242.96 L532.87,243.00 L533.09,243.03 L533.32,243.05 L533.54,243.08 L533.77,243.10 L533.99,243.12 L534.22,243.13 L534.44,243.15 L534.66,243.17 L534.89,243.18 L535.11,243.19 L535.34,243.20 L535.56,243.21 L535.78,243.22 L536.01,243.23 L536.23,243.23 L536.46,243.24 L536.68,243.25 L536.90,243.25 L537.13,243.26 L537.35,243.26 L537.58,243.26 L537.80,243.27 L540.00,232.00 L545.00,219.00 L551.00,208.00 L557.30,197.50" fill="none" stroke="#4b0e74" stroke-width="1.5" stroke-linejoin="round" />
<path d="M436.00,245.40 L436.20,245.40 L436.41,245.40 L436.61,245.40 L436.82,245.40 L437.02,245.40 L437.22,245.40 L437.43,245.40 L437.63,245.40 L437.84,245.40 L438.04,245.40 L438.24,245.40 L438.45,245.40 L438.65,245.40 L438.86,245.40 L439.06,245.23 L439.26,244.72 L439.47,244.28 L439.67,243.91 L439.88,243.59 L440.08,243.31 L440.28,243.08 L440.49,242.88 L440.69,242.71 L440.90,242.56 L441.10,242.44 L441.30,242.33 L441.51,242.24 L441.71,242.16 L441.92,242.09 L442.12,242.04 L442.32,241.99 L442.53,241.95 L442.73,241.91 L442.94,241.88 L443.14,241.85 L443.34,241.83 L443.55,241.81 L443.75,241.80 L443.96,241.78 L444.16,241.77 L444.36,241.76 L444.57,241.75 L444.77,241.74 L444.98,241.74 L445.18,241.73 L445.38,241.73 L445.59,241.72 L445.79,241.72 L446.00,241.72 L446.20,241.71 L446.40,241.71 L446.61,241.71 L446.81,241.71 L447.02,241.71 L447.22,241.71 L447.42,241.71 L447.63,241.70 L447.83,241.70 L448.04,241.70 L448.24,241.70 L448.44,241.70 L448.65,241.70 L448.85,241.70 L449.06,241.70 L449.26,241.70 L449.46,241.70 L449.67,241.70 L449.87,241.70 L450.08,241.70 L450.28,241.70 L450.48,241.70 L450.69,241.70 L450.89,241.70 L451.10,241.70 L451.30,241.70 L451.50,241.70 L451.71,241.70 L451.91,242.01 L452.12,242.50 L452.32,242.92 L452.52,243.28 L452.73,243.59 L452.93,243.85 L453.14,244.08 L453.34,244.27 L453.54,244.43 L453.75,244.57 L453.95,244.69 L454.16,244.80 L454.36,244.88 L454.56,244.96 L454.77,245.02 L454.97,245.08 L455.18,245.12 L455.38,245.16 L455.58,245.20 L455.79,245.23 L455.99,245.25 L456.20,245.27 L456.40,245.29 L456.60,245.31 L456.81,245.32 L457.01,245.33 L457.22,245.34 L457.42,245.35 L457.62,245.36 L457.83,245.36 L458.03,245.37 L458.24,245.37 L458.44,245.38 L458.64,245.38 L458.85,245.38 L459.05,245.39 L459.26,245.39 L459.46,245.39 L459.66,245.39 L459.87,245.39 L460.07,245.39 L460.28,245.39 L460.48,245.40 L460.68,245.40 L460.89,245.40 L461.09,245.40 L461.30,245.40 L461.50,245.40 L461.71,245.40 L461.91,245.40 L462.11,245.40 L462.32,245.40 L462.52,245.40 L462.73,245.40 L462.93,245.40 L463.13,245.40 L463.34,245.40 L463.54,245.40 L463.75,245.40 L463.95,245.40 L464.15,244.99 L464.36,244.51 L464.56,244.10 L464.77,243.75 L464.97,243.46 L465.17,243.20 L465.38,242.98 L465.58,242.80 L465.79,242.64 L465.99,242.50 L466.19,242.38 L466.40,242.29 L466.60,242.20 L466.81,242.13 L467.01,242.07 L467.21,242.01 L467.42,241.97 L467.62,241.93 L467.83,241.90 L468.03,241.87 L468.23,241.84 L468.44,241.82 L468.64,241.80 L468.85,241.79 L469.05,241.78 L469.25,241.77 L469.46,241.76 L469.66,241.75 L469.87,241.74 L470.07,241.73 L470.27,241.73 L470.48,241.73 L470.68,241.72 L470.89,241.72 L471.09,241.72 L471.29,241.71 L471.50,241.71 L471.70,241.71 L471.91,241.71 L472.11,241.71 L472.31,241.71 L472.52,241.71 L472.72,241.70 L472.93,241.70 L473.13,241.70 L473.33,241.70 L473.54,241.70 L473.74,241.70 L473.95,241.70 L474.15,241.70 L474.35,241.70 L474.56,241.70 L474.76,241.70 L474.97,241.70 L475.17,241.70 L475.37,241.70 L475.58,241.70 L475.78,241.70 L475.99,241.70 L476.19,241.70 L476.39,241.70 L476.60,241.70 L476.80,241.70 L477.01,242.24 L477.21,242.70 L477.41,243.09 L477.62,243.43 L477.82,243.71 L478.03,243.96 L478.23,244.17 L478.43,244.35 L478.64,244.50 L478.84,244.63 L479.05,244.74 L479.25,244.84 L479.45,244.92 L479.66,244.99 L479.86,245.05 L480.07,245.10 L480.27,245.14 L480.47,245.18 L480.68,245.21 L480.88,245.24 L481.09,245.26 L481.29,245.28 L481.49,245.30 L481.70,245.31 L481.90,245.33 L482.11,245.34 L482.31,245.35 L482.51,245.35 L482.72,245.36 L482.92,245.37 L483.13,245.37 L483.33,245.38 L483.53,245.38 L483.74,245.38 L483.94,245.38 L484.15,245.39 L484.35,245.39 L484.55,245.39 L484.76,245.39 L484.96,245.39 L485.17,245.39 L485.37,245.39 L485.57,245.40 L485.78,245.40 L485.98,245.40 L486.19,245.40 L486.39,245.40 L486.59,245.40 L486.80,245.40 L487.00,245.40 L487.21,245.40 L487.41,245.40 L487.61,245.40 L487.82,245.40 L488.02,245.40 L488.23,245.40 L488.43,245.40 L488.63,245.40 L488.84,245.40 L489.04,245.28 L489.25,244.76 L489.45,244.32 L489.65,243.94 L489.86,243.61 L490.06,243.33 L490.27,243.10 L490.47,242.89 L490.67,242.72 L490.88,242.57 L491.08,242.45 L491.29,242.34 L491.49,242.24 L491.69,242.17 L491.90,242.10 L492.10,242.04 L492.31,241.99 L492.51,241.95 L492.71,241.91 L492.92,241.88 L493.12,241.86 L493.33,241.83 L493.53,241.81 L493.73,241.80 L493.94,241.78 L494.14,241.77 L494.35,241.76 L494.55,241.75 L494.75,241.74 L494.96,241.74 L495.16,241.73 L495.37,241.73 L495.57,241.72 L495.77,241.72 L495.98,241.72 L496.18,241.71 L496.39,241.71 L496.59,241.71 L496.79,241.71 L497.00,241.71 L497.20,241.71 L497.41,241.71 L497.61,241.70 L497.81,241.70 L498.02,241.70 L498.22,241.70 L498.43,241.70 L498.63,241.70 L498.83,241.70 L499.04,241.70 L499.24,241.70 L499.45,241.70 L499.65,241.70 L499.85,241.70 L500.06,241.70 L500.26,241.70 L500.47,241.70 L500.67,241.70 L500.87,241.70 L501.08,241.70 L501.28,241.70 L501.49,241.70 L501.69,241.70 L501.89,241.96 L502.10,242.46 L502.30,242.89 L502.51,243.25 L502.71,243.56 L502.91,243.83 L503.12,244.06 L503.32,244.25 L503.53,244.42 L503.73,244.56 L503.93,244.68 L504.14,244.79 L504.34,244.88 L504.55,244.95 L504.75,245.02 L504.95,245.07 L505.16,245.12 L505.36,245.16 L505.57,245.20 L505.77,245.23 L505.97,245.25 L506.18,245.27 L506.38,245.29 L506.59,245.31 L506.79,245.32 L506.99,245.33 L507.20,245.34 L507.40,245.35 L507.61,245.36 L507.81,245.36 L508.01,245.37 L508.22,245.37 L508.42,245.38 L508.63,245.38 L508.83,245.38 L509.03,245.39 L509.24,245.39 L509.44,245.39 L509.65,245.39 L509.85,245.39 L510.05,245.39 L510.26,245.39 L510.46,245.40 L510.67,245.40 L510.87,245.40 L511.07,245.40 L511.28,245.40 L511.48,245.40 L511.69,245.40 L511.89,245.40 L512.09,245.40 L512.30,245.40 L512.50,245.40 L512.71,245.40 L512.91,245.40 L513.12,245.40 L513.32,245.40 L513.52,245.40 L513.73,245.40 L513.93,245.40 L514.14,245.40 L514.34,245.02 L514.54,244.54 L514.75,244.13 L514.95,243.78 L515.16,243.47 L515.36,243.22 L515.56,243.00 L515.77,242.81 L515.97,242.65 L516.18,242.51 L516.38,242.39 L516.58,242.29 L516.79,242.21 L516.99,242.13 L517.20,242.07 L517.40,242.02 L517.60,241.97 L517.81,241.93 L518.01,241.90 L518.22,241.87 L518.42,241.84 L518.62,241.82 L518.83,241.81 L519.03,241.79 L519.24,241.78 L519.44,241.77 L519.64,241.76 L519.85,241.75 L520.05,241.74 L520.26,241.74 L520.46,241.73 L520.66,241.73 L520.87,241.72 L521.07,241.72 L521.28,241.72 L521.48,241.71 L521.68,241.71 L521.89,241.71 L522.09,241.71 L522.30,241.71 L522.50,241.71 L522.70,241.71 L522.91,241.70 L523.11,241.70 L523.32,241.70 L523.52,241.70 L523.72,241.70 L523.93,241.70 L524.13,241.70 L524.34,241.70 L524.54,241.70 L524.74,241.70 L524.95,241.70 L525.15,241.70 L525.36,241.70 L525.56,241.70 L525.76,241.70 L525.97,241.70 L526.17,241.70 L526.38,241.70 L526.58,241.70 L526.78,241.70 L526.99,241.70 L527.19,242.21 L527.40,242.67 L527.60,243.07 L527.80,243.41 L528.01,243.70 L528.21,243.94 L528.42,244.15 L528.62,244.34 L528.82,244.49 L529.03,244.62 L529.23,244.74 L529.44,244.83 L529.64,244.91 L529.84,244.98 L530.05,245.05 L530.25,245.10 L530.46,245.14 L530.66,245.18 L530.86,245.21 L531.07,245.24 L531.27,245.26 L531.48,245.28 L531.68,245.30 L531.88,245.31 L532.09,245.33 L532.29,245.34 L532.50,245.35 L532.70,245.35 L532.90,245.36 L533.11,245.37 L533.31,245.37 L533.52,245.38 L533.72,245.38 L533.92,245.38 L534.13,245.38 L534.33,245.39 L534.54,245.39 L534.74,245.39 L534.94,245.39 L535.15,245.39 L535.35,245.39 L535.56,245.39 L535.76,245.40 L535.96,245.40 L536.17,245.40 L536.37,245.40 L536.58,245.40 L536.78,245.40 L536.98,245.40 L537.19,245.40 L537.39,245.40 L537.60,245.40 L537.80,245.40 L541.00,230.00 L545.00,213.00 L548.50,195.80" fill="none" stroke="#18869a" stroke-width="1.5" stroke-linejoin="round" stroke-dasharray="3.8,2.4"/>
<rect x="458.3" y="232.6" width="27" height="17.5" fill="none" stroke="#111" stroke-width="1.25" stroke-dasharray="1.25,1.25"/>
<line x1="421.50" y1="195.80" x2="421.50" y2="322.60" stroke="#111" stroke-width="1.2" stroke-dasharray="1.3,1.7"/>
<line x1="378.50" y1="210.50" x2="416.00" y2="210.50" stroke="#8c8c8c" stroke-width="1.3" />
<path d="M376.6,210.5 L381.5,208 L381.5,213 Z" fill="#8c8c8c"/><path d="M418.8,210.5 L413.9,208 L413.9,213 Z" fill="#8c8c8c"/>
<line x1="425.00" y1="210.50" x2="536.00" y2="210.50" stroke="#8c8c8c" stroke-width="1.3" />
<path d="M422.6,210.5 L427.5,208 L427.5,213 Z" fill="#8c8c8c"/><path d="M538.5,210.5 L533.6,208 L533.6,213 Z" fill="#8c8c8c"/>
<text x="398.20" y="220.43" font-size="8.45" text-anchor="middle" fill="#8c8c8c" font-weight="normal"  stroke="#8c8c8c" stroke-width="0.05">SS</text>
<text x="478.00" y="220.43" font-size="8.45" text-anchor="middle" fill="#8e8e8e" font-weight="normal"  stroke="#8e8e8e" stroke-width="0.05">Transient</text>
<text x="384.00" y="305.73" font-size="8.45" text-anchor="start" fill="#8e8e8e" font-weight="normal"  stroke="#8e8e8e" stroke-width="0.05">600 mL/min</text>
<text x="477.70" y="305.73" font-size="8.45" text-anchor="middle" fill="#8e8e8e" font-weight="normal"  stroke="#8e8e8e" stroke-width="0.05">80-600 mL/min</text>
<text x="540.50" y="305.73" font-size="8.45" text-anchor="middle" fill="#8e8e8e" font-weight="normal"  stroke="#8e8e8e" stroke-width="0.05">No-flow</text>
<rect x="375.0" y="195.8" width="182.29999999999995" height="126.80000000000001" fill="none" stroke="#111" stroke-width="1.4"/>
<line x1="375.00" y1="322.60" x2="377.50" y2="322.60" stroke="#111" stroke-width="1" />
<text x="372.50" y="325.70" font-size="8.65" text-anchor="end" fill="#1a1a1a" font-weight="normal"  stroke="#1a1a1a" stroke-width="0.05">0</text>
<line x1="375.00" y1="291.10" x2="377.50" y2="291.10" stroke="#111" stroke-width="1" />
<text x="372.50" y="294.20" font-size="8.65" text-anchor="end" fill="#1a1a1a" font-weight="normal"  stroke="#1a1a1a" stroke-width="0.05">3</text>
<line x1="375.00" y1="259.60" x2="377.50" y2="259.60" stroke="#111" stroke-width="1" />
<text x="372.50" y="262.70" font-size="8.65" text-anchor="end" fill="#1a1a1a" font-weight="normal"  stroke="#1a1a1a" stroke-width="0.05">6</text>
<line x1="375.00" y1="228.10" x2="377.50" y2="228.10" stroke="#111" stroke-width="1" />
<text x="372.50" y="231.20" font-size="8.65" text-anchor="end" fill="#1a1a1a" font-weight="normal"  stroke="#1a1a1a" stroke-width="0.05">9</text>
<line x1="375.00" y1="196.60" x2="377.50" y2="196.60" stroke="#111" stroke-width="1" />
<text x="372.50" y="199.70" font-size="8.65" text-anchor="end" fill="#1a1a1a" font-weight="normal"  stroke="#1a1a1a" stroke-width="0.05">12</text>
<line x1="380.00" y1="322.60" x2="380.00" y2="320.10" stroke="#111" stroke-width="1" />
<line x1="406.00" y1="322.60" x2="406.00" y2="320.80" stroke="#111" stroke-width="1" />
<line x1="432.00" y1="322.60" x2="432.00" y2="320.10" stroke="#111" stroke-width="1" />
<line x1="458.00" y1="322.60" x2="458.00" y2="320.80" stroke="#111" stroke-width="1" />
<line x1="484.00" y1="322.60" x2="484.00" y2="320.10" stroke="#111" stroke-width="1" />
<line x1="510.00" y1="322.60" x2="510.00" y2="320.80" stroke="#111" stroke-width="1" />
<line x1="536.00" y1="322.60" x2="536.00" y2="320.10" stroke="#111" stroke-width="1" />
<text x="380.00" y="333.70" font-size="8.65" text-anchor="middle" fill="#1a1a1a" font-weight="normal"  stroke="#1a1a1a" stroke-width="0.05">0</text>
<text x="432.00" y="333.70" font-size="8.65" text-anchor="middle" fill="#1a1a1a" font-weight="normal"  stroke="#1a1a1a" stroke-width="0.05">500</text>
<text x="484.00" y="333.70" font-size="8.65" text-anchor="middle" fill="#1a1a1a" font-weight="normal"  stroke="#1a1a1a" stroke-width="0.05">1000</text>
<text x="536.00" y="333.70" font-size="8.65" text-anchor="middle" fill="#1a1a1a" font-weight="normal"  stroke="#1a1a1a" stroke-width="0.05">1500</text>
<text x="465.70" y="343.66" font-size="9.1" text-anchor="middle" fill="#1a1a1a" font-weight="normal"  stroke="#1a1a1a" stroke-width="0.05">Time (s)</text>
<text transform="translate(357.5 258.2) rotate(-90)" font-size="9.1" text-anchor="middle" fill="#1a1a1a" stroke="#1a1a1a" stroke-width="0.05">ΔT<tspan font-size="6.7" dy="1.34">Heater</tspan><tspan dy="-1.34"> (°C)</tspan></text>
<rect x="600.3" y="195.8" width="26.7" height="126.19999999999999" fill="#efefef"/>
<path d="M587.00,227.10 L600.50,227.10 L600.50,309.20 L627.00,309.20 L627.00,227.10 L651.60,227.10" fill="none" stroke="#a0a0a0" stroke-width="1.3" stroke-linejoin="round" />
<path d="M587.00,277.60 L587.22,277.66 L587.43,277.73 L587.65,277.79 L587.86,277.86 L588.08,277.92 L588.30,277.98 L588.51,278.05 L588.73,278.11 L588.94,278.17 L589.16,278.24 L589.38,278.30 L589.59,278.36 L589.81,278.42 L590.02,278.48 L590.24,278.54 L590.46,278.61 L590.67,278.67 L590.89,278.73 L591.11,278.79 L591.32,278.85 L591.54,278.91 L591.75,278.97 L591.97,279.02 L592.19,279.08 L592.40,279.14 L592.62,279.20 L592.83,279.26 L593.05,279.31 L593.27,279.37 L593.48,279.43 L593.70,279.50 L593.91,279.56 L594.13,279.63 L594.35,279.70 L594.56,279.77 L594.78,279.84 L594.99,279.91 L595.21,279.98 L595.43,280.05 L595.64,280.12 L595.86,280.19 L596.07,280.26 L596.29,280.33 L596.51,280.40 L596.72,280.46 L596.94,280.53 L597.15,280.59 L597.37,280.65 L597.59,280.71 L597.80,280.76 L598.02,280.81 L598.23,280.86 L598.45,280.90 L598.67,280.95 L598.88,280.98 L599.10,281.01 L599.32,281.04 L599.53,281.06 L599.75,281.08 L599.96,281.09 L600.18,281.10 L600.40,281.01 L600.61,280.25 L600.83,278.87 L601.04,277.09 L601.26,275.13 L601.48,273.21 L601.69,271.19 L601.91,268.75 L602.12,266.05 L602.34,263.27 L602.56,260.57 L602.77,258.12 L602.99,256.10 L603.20,254.41 L603.42,252.81 L603.64,251.29 L603.85,249.86 L604.07,248.51 L604.28,247.23 L604.50,246.04 L604.72,244.93 L604.93,243.89 L605.15,242.93 L605.36,242.04 L605.58,241.20 L605.80,240.40 L606.01,239.63 L606.23,238.89 L606.44,238.19 L606.66,237.51 L606.88,236.87 L607.09,236.24 L607.31,235.64 L607.53,235.07 L607.74,234.51 L607.96,233.97 L608.17,233.45 L608.39,232.94 L608.61,232.44 L608.82,231.95 L609.04,231.47 L609.25,231.00 L609.47,230.53 L609.69,230.07 L609.90,229.62 L610.12,229.18 L610.33,228.74 L610.55,228.32 L610.77,227.90 L610.98,227.50 L611.20,227.11 L611.41,226.73 L611.63,226.36 L611.85,226.01 L612.06,225.67 L612.28,225.34 L612.49,225.03 L612.71,224.73 L612.93,224.45 L613.14,224.18 L613.36,223.93 L613.57,223.69 L613.79,223.46 L614.01,223.23 L614.22,223.00 L614.44,222.78 L614.65,222.56 L614.87,222.35 L615.09,222.14 L615.30,221.94 L615.52,221.74 L615.74,221.55 L615.95,221.37 L616.17,221.19 L616.38,221.01 L616.60,220.84 L616.82,220.68 L617.03,220.52 L617.25,220.37 L617.46,220.22 L617.68,220.08 L617.90,219.94 L618.11,219.81 L618.33,219.69 L618.54,219.57 L618.76,219.46 L618.98,219.36 L619.19,219.26 L619.41,219.16 L619.62,219.06 L619.84,218.96 L620.06,218.86 L620.27,218.77 L620.49,218.67 L620.70,218.58 L620.92,218.48 L621.14,218.39 L621.35,218.30 L621.57,218.22 L621.78,218.14 L622.00,218.06 L622.22,217.98 L622.43,217.91 L622.65,217.85 L622.86,217.78 L623.08,217.73 L623.30,217.68 L623.51,217.63 L623.73,217.59 L623.95,217.56 L624.16,217.53 L624.38,217.52 L624.59,217.50 L624.81,217.50 L625.03,217.51 L625.24,217.52 L625.46,217.55 L625.67,217.60 L625.89,217.65 L626.11,217.72 L626.32,217.82 L626.54,218.64 L626.75,220.37 L626.97,222.60 L627.19,224.90 L627.40,226.96 L627.62,229.22 L627.83,231.71 L628.05,234.32 L628.27,236.98 L628.48,239.58 L628.70,242.05 L628.91,244.29 L629.13,246.20 L629.35,247.70 L629.56,248.83 L629.78,249.88 L629.99,250.85 L630.21,251.76 L630.43,252.61 L630.64,253.40 L630.86,254.15 L631.07,254.84 L631.29,255.50 L631.51,256.12 L631.72,256.70 L631.94,257.26 L632.16,257.80 L632.37,258.31 L632.59,258.81 L632.80,259.31 L633.02,259.79 L633.24,260.26 L633.45,260.71 L633.67,261.14 L633.88,261.56 L634.10,261.96 L634.32,262.35 L634.53,262.73 L634.75,263.09 L634.96,263.43 L635.18,263.76 L635.40,264.07 L635.61,264.37 L635.83,264.66 L636.04,264.93 L636.26,265.19 L636.48,265.44 L636.69,265.69 L636.91,265.92 L637.12,266.15 L637.34,266.37 L637.56,266.58 L637.77,266.79 L637.99,266.99 L638.20,267.18 L638.42,267.37 L638.64,267.55 L638.85,267.73 L639.07,267.90 L639.28,268.06 L639.50,268.22 L639.72,268.37 L639.93,268.52 L640.15,268.67 L640.37,268.81 L640.58,268.95 L640.80,269.08 L641.01,269.21 L641.23,269.34 L641.45,269.47 L641.66,269.59 L641.88,269.71 L642.09,269.83 L642.31,269.95 L642.53,270.06 L642.74,270.17 L642.96,270.28 L643.17,270.38 L643.39,270.49 L643.61,270.59 L643.82,270.69 L644.04,270.79 L644.25,270.88 L644.47,270.98 L644.69,271.07 L644.90,271.16 L645.12,271.25 L645.33,271.34 L645.55,271.43 L645.77,271.51 L645.98,271.60 L646.20,271.68 L646.41,271.77 L646.63,271.85 L646.85,271.93 L647.06,272.01 L647.28,272.09 L647.49,272.17 L647.71,272.25 L647.93,272.33 L648.14,272.40 L648.36,272.48 L648.58,272.55 L648.79,272.62 L649.01,272.69 L649.22,272.76 L649.44,272.83 L649.66,272.89 L649.87,272.95 L650.09,273.02 L650.30,273.08 L650.52,273.14 L650.74,273.19 L650.95,273.25 L651.17,273.30 L651.38,273.35 L651.60,273.40" fill="none" stroke="#4b0e74" stroke-width="1.5" stroke-linejoin="round" />
<path d="M587.00,296.10 L587.22,296.10 L587.43,296.10 L587.65,296.10 L587.86,296.10 L588.08,296.10 L588.30,296.10 L588.51,296.09 L588.73,296.09 L588.94,296.09 L589.16,296.09 L589.38,296.09 L589.59,296.08 L589.81,296.08 L590.02,296.07 L590.24,296.07 L590.46,296.07 L590.67,296.06 L590.89,296.05 L591.11,296.05 L591.32,296.04 L591.54,296.03 L591.75,296.03 L591.97,296.02 L592.19,296.01 L592.40,296.00 L592.62,295.99 L592.83,295.98 L593.05,295.96 L593.27,295.95 L593.48,295.94 L593.70,295.92 L593.91,295.91 L594.13,295.89 L594.35,295.88 L594.56,295.86 L594.78,295.84 L594.99,295.82 L595.21,295.80 L595.43,295.78 L595.64,295.76 L595.86,295.74 L596.07,295.72 L596.29,295.69 L596.51,295.67 L596.72,295.64 L596.94,295.61 L597.15,295.58 L597.37,295.55 L597.59,295.52 L597.80,295.49 L598.02,295.46 L598.23,295.42 L598.45,295.39 L598.67,295.35 L598.88,295.31 L599.10,295.28 L599.32,295.24 L599.53,295.19 L599.75,295.15 L599.96,295.11 L600.18,294.90 L600.40,294.28 L600.61,293.38 L600.83,292.34 L601.04,291.29 L601.26,290.06 L601.48,288.60 L601.69,286.95 L601.91,285.16 L602.12,283.30 L602.34,281.40 L602.56,279.50 L602.77,277.39 L602.99,275.05 L603.20,272.59 L603.42,270.12 L603.64,267.78 L603.85,265.65 L604.07,263.87 L604.28,262.51 L604.50,261.31 L604.72,260.20 L604.93,259.18 L605.15,258.24 L605.36,257.41 L605.58,256.66 L605.80,256.02 L606.01,255.47 L606.23,254.98 L606.44,254.52 L606.66,254.10 L606.88,253.70 L607.09,253.35 L607.31,253.03 L607.53,252.75 L607.74,252.52 L607.96,252.33 L608.17,252.18 L608.39,252.03 L608.61,251.89 L608.82,251.75 L609.04,251.63 L609.25,251.51 L609.47,251.40 L609.69,251.30 L609.90,251.21 L610.12,251.14 L610.33,251.08 L610.55,251.04 L610.77,251.01 L610.98,251.00 L611.20,251.00 L611.41,251.00 L611.63,251.00 L611.85,251.00 L612.06,251.00 L612.28,251.00 L612.49,251.00 L612.71,251.00 L612.93,251.00 L613.14,251.00 L613.36,251.00 L613.57,251.00 L613.79,251.00 L614.01,251.00 L614.22,251.00 L614.44,251.00 L614.65,251.00 L614.87,251.00 L615.09,251.00 L615.30,251.00 L615.52,251.00 L615.74,251.00 L615.95,251.00 L616.17,251.00 L616.38,251.00 L616.60,251.00 L616.82,251.00 L617.03,251.00 L617.25,251.00 L617.46,251.00 L617.68,251.00 L617.90,251.00 L618.11,251.00 L618.33,251.00 L618.54,251.00 L618.76,251.00 L618.98,251.00 L619.19,251.00 L619.41,251.00 L619.62,251.00 L619.84,251.00 L620.06,251.00 L620.27,251.00 L620.49,251.00 L620.70,251.00 L620.92,251.00 L621.14,251.00 L621.35,251.00 L621.57,251.00 L621.78,251.00 L622.00,251.00 L622.22,251.00 L622.43,251.00 L622.65,251.00 L622.86,251.00 L623.08,251.00 L623.30,251.00 L623.51,251.00 L623.73,251.00 L623.95,251.00 L624.16,251.00 L624.38,251.00 L624.59,251.00 L624.81,251.00 L625.03,251.00 L625.24,251.00 L625.46,251.00 L625.67,251.00 L625.89,251.00 L626.11,251.00 L626.32,251.00 L626.54,251.08 L626.75,251.29 L626.97,251.62 L627.19,252.04 L627.40,252.56 L627.62,253.14 L627.83,253.79 L628.05,254.49 L628.27,255.25 L628.48,256.32 L628.70,257.75 L628.91,259.47 L629.13,261.40 L629.35,263.48 L629.56,265.67 L629.78,268.60 L629.99,272.02 L630.21,275.37 L630.43,278.11 L630.64,279.95 L630.86,281.54 L631.07,282.96 L631.29,284.22 L631.51,285.36 L631.72,286.39 L631.94,287.34 L632.16,288.22 L632.37,289.08 L632.59,289.91 L632.80,290.70 L633.02,291.43 L633.24,292.11 L633.45,292.71 L633.67,293.22 L633.88,293.63 L634.10,293.93 L634.32,294.22 L634.53,294.49 L634.75,294.74 L634.96,294.97 L635.18,295.17 L635.40,295.34 L635.61,295.47 L635.83,295.56 L636.04,295.60 L636.26,295.60 L636.48,295.61 L636.69,295.61 L636.91,295.61 L637.12,295.62 L637.34,295.62 L637.56,295.62 L637.77,295.63 L637.99,295.63 L638.20,295.63 L638.42,295.63 L638.64,295.64 L638.85,295.64 L639.07,295.64 L639.28,295.65 L639.50,295.65 L639.72,295.65 L639.93,295.65 L640.15,295.65 L640.37,295.66 L640.58,295.66 L640.80,295.66 L641.01,295.66 L641.23,295.66 L641.45,295.67 L641.66,295.67 L641.88,295.67 L642.09,295.67 L642.31,295.67 L642.53,295.67 L642.74,295.68 L642.96,295.68 L643.17,295.68 L643.39,295.68 L643.61,295.68 L643.82,295.68 L644.04,295.68 L644.25,295.69 L644.47,295.69 L644.69,295.69 L644.90,295.69 L645.12,295.69 L645.33,295.69 L645.55,295.69 L645.77,295.69 L645.98,295.69 L646.20,295.69 L646.41,295.69 L646.63,295.69 L646.85,295.69 L647.06,295.70 L647.28,295.70 L647.49,295.70 L647.71,295.70 L647.93,295.70 L648.14,295.70 L648.36,295.70 L648.58,295.70 L648.79,295.70 L649.01,295.70 L649.22,295.70 L649.44,295.70 L649.66,295.70 L649.87,295.70 L650.09,295.70 L650.30,295.70 L650.52,295.70 L650.74,295.70 L650.95,295.70 L651.17,295.70 L651.38,295.70 L651.60,295.70" fill="none" stroke="#18869a" stroke-width="1.5" stroke-linejoin="round" stroke-dasharray="3.8,2.4"/>
<rect x="587.0" y="195.8" width="64.60000000000002" height="126.19999999999999" fill="none" stroke="#111" stroke-width="1.4"/>
<line x1="587.00" y1="308.70" x2="589.50" y2="308.70" stroke="#111" stroke-width="1" />
<text x="584.50" y="311.80" font-size="8.65" text-anchor="end" fill="#1a1a1a" font-weight="normal"  stroke="#1a1a1a" stroke-width="0.05">7.2</text>
<line x1="587.00" y1="283.70" x2="589.50" y2="283.70" stroke="#111" stroke-width="1" />
<text x="584.50" y="286.80" font-size="8.65" text-anchor="end" fill="#1a1a1a" font-weight="normal"  stroke="#1a1a1a" stroke-width="0.05">7.4</text>
<line x1="587.00" y1="258.70" x2="589.50" y2="258.70" stroke="#111" stroke-width="1" />
<text x="584.50" y="261.80" font-size="8.65" text-anchor="end" fill="#1a1a1a" font-weight="normal"  stroke="#1a1a1a" stroke-width="0.05">7.6</text>
<line x1="587.00" y1="233.70" x2="589.50" y2="233.70" stroke="#111" stroke-width="1" />
<text x="584.50" y="236.80" font-size="8.65" text-anchor="end" fill="#1a1a1a" font-weight="normal"  stroke="#1a1a1a" stroke-width="0.05">7.8</text>
<line x1="587.00" y1="208.70" x2="589.50" y2="208.70" stroke="#111" stroke-width="1" />
<text x="584.50" y="211.80" font-size="8.65" text-anchor="end" fill="#1a1a1a" font-weight="normal"  stroke="#1a1a1a" stroke-width="0.05">8.0</text>
<line x1="651.60" y1="322.60" x2="654.10" y2="322.60" stroke="#111" stroke-width="1" />
<text x="658.20" y="325.70" font-size="8.65" text-anchor="start" fill="#8e8e8e" font-weight="normal"  stroke="#8e8e8e" stroke-width="0.05">0</text>
<line x1="651.60" y1="290.90" x2="654.10" y2="290.90" stroke="#111" stroke-width="1" />
<text x="658.20" y="294.00" font-size="8.65" text-anchor="start" fill="#8e8e8e" font-weight="normal"  stroke="#8e8e8e" stroke-width="0.05">200</text>
<line x1="651.60" y1="259.20" x2="654.10" y2="259.20" stroke="#111" stroke-width="1" />
<text x="658.20" y="262.30" font-size="8.65" text-anchor="start" fill="#8e8e8e" font-weight="normal"  stroke="#8e8e8e" stroke-width="0.05">400</text>
<line x1="651.60" y1="227.50" x2="654.10" y2="227.50" stroke="#111" stroke-width="1" />
<text x="658.20" y="230.60" font-size="8.65" text-anchor="start" fill="#8e8e8e" font-weight="normal"  stroke="#8e8e8e" stroke-width="0.05">600</text>
<line x1="651.60" y1="195.80" x2="654.10" y2="195.80" stroke="#111" stroke-width="1" />
<text x="658.20" y="198.90" font-size="8.65" text-anchor="start" fill="#8e8e8e" font-weight="normal"  stroke="#8e8e8e" stroke-width="0.05">800</text>
<line x1="597.80" y1="322.00" x2="597.80" y2="319.50" stroke="#111" stroke-width="1" />
<line x1="620.20" y1="322.00" x2="620.20" y2="319.50" stroke="#111" stroke-width="1" />
<line x1="642.60" y1="322.00" x2="642.60" y2="319.50" stroke="#111" stroke-width="1" />
<text x="597.80" y="333.30" font-size="8.65" text-anchor="middle" fill="#1a1a1a" font-weight="normal"  stroke="#1a1a1a" stroke-width="0.05">800</text>
<text x="642.60" y="333.30" font-size="8.65" text-anchor="middle" fill="#1a1a1a" font-weight="normal"  stroke="#1a1a1a" stroke-width="0.05">1000</text>
<text x="619.30" y="343.06" font-size="9.1" text-anchor="middle" fill="#1a1a1a" font-weight="normal"  stroke="#1a1a1a" stroke-width="0.05">Time (s)</text>
<text transform="translate(677.6 259.2) rotate(90)" font-size="9.0" text-anchor="middle" fill="#8e8e8e" stroke="#8e8e8e" stroke-width="0.05">Flow rate (mL/min)</text>
</svg></body></html>
